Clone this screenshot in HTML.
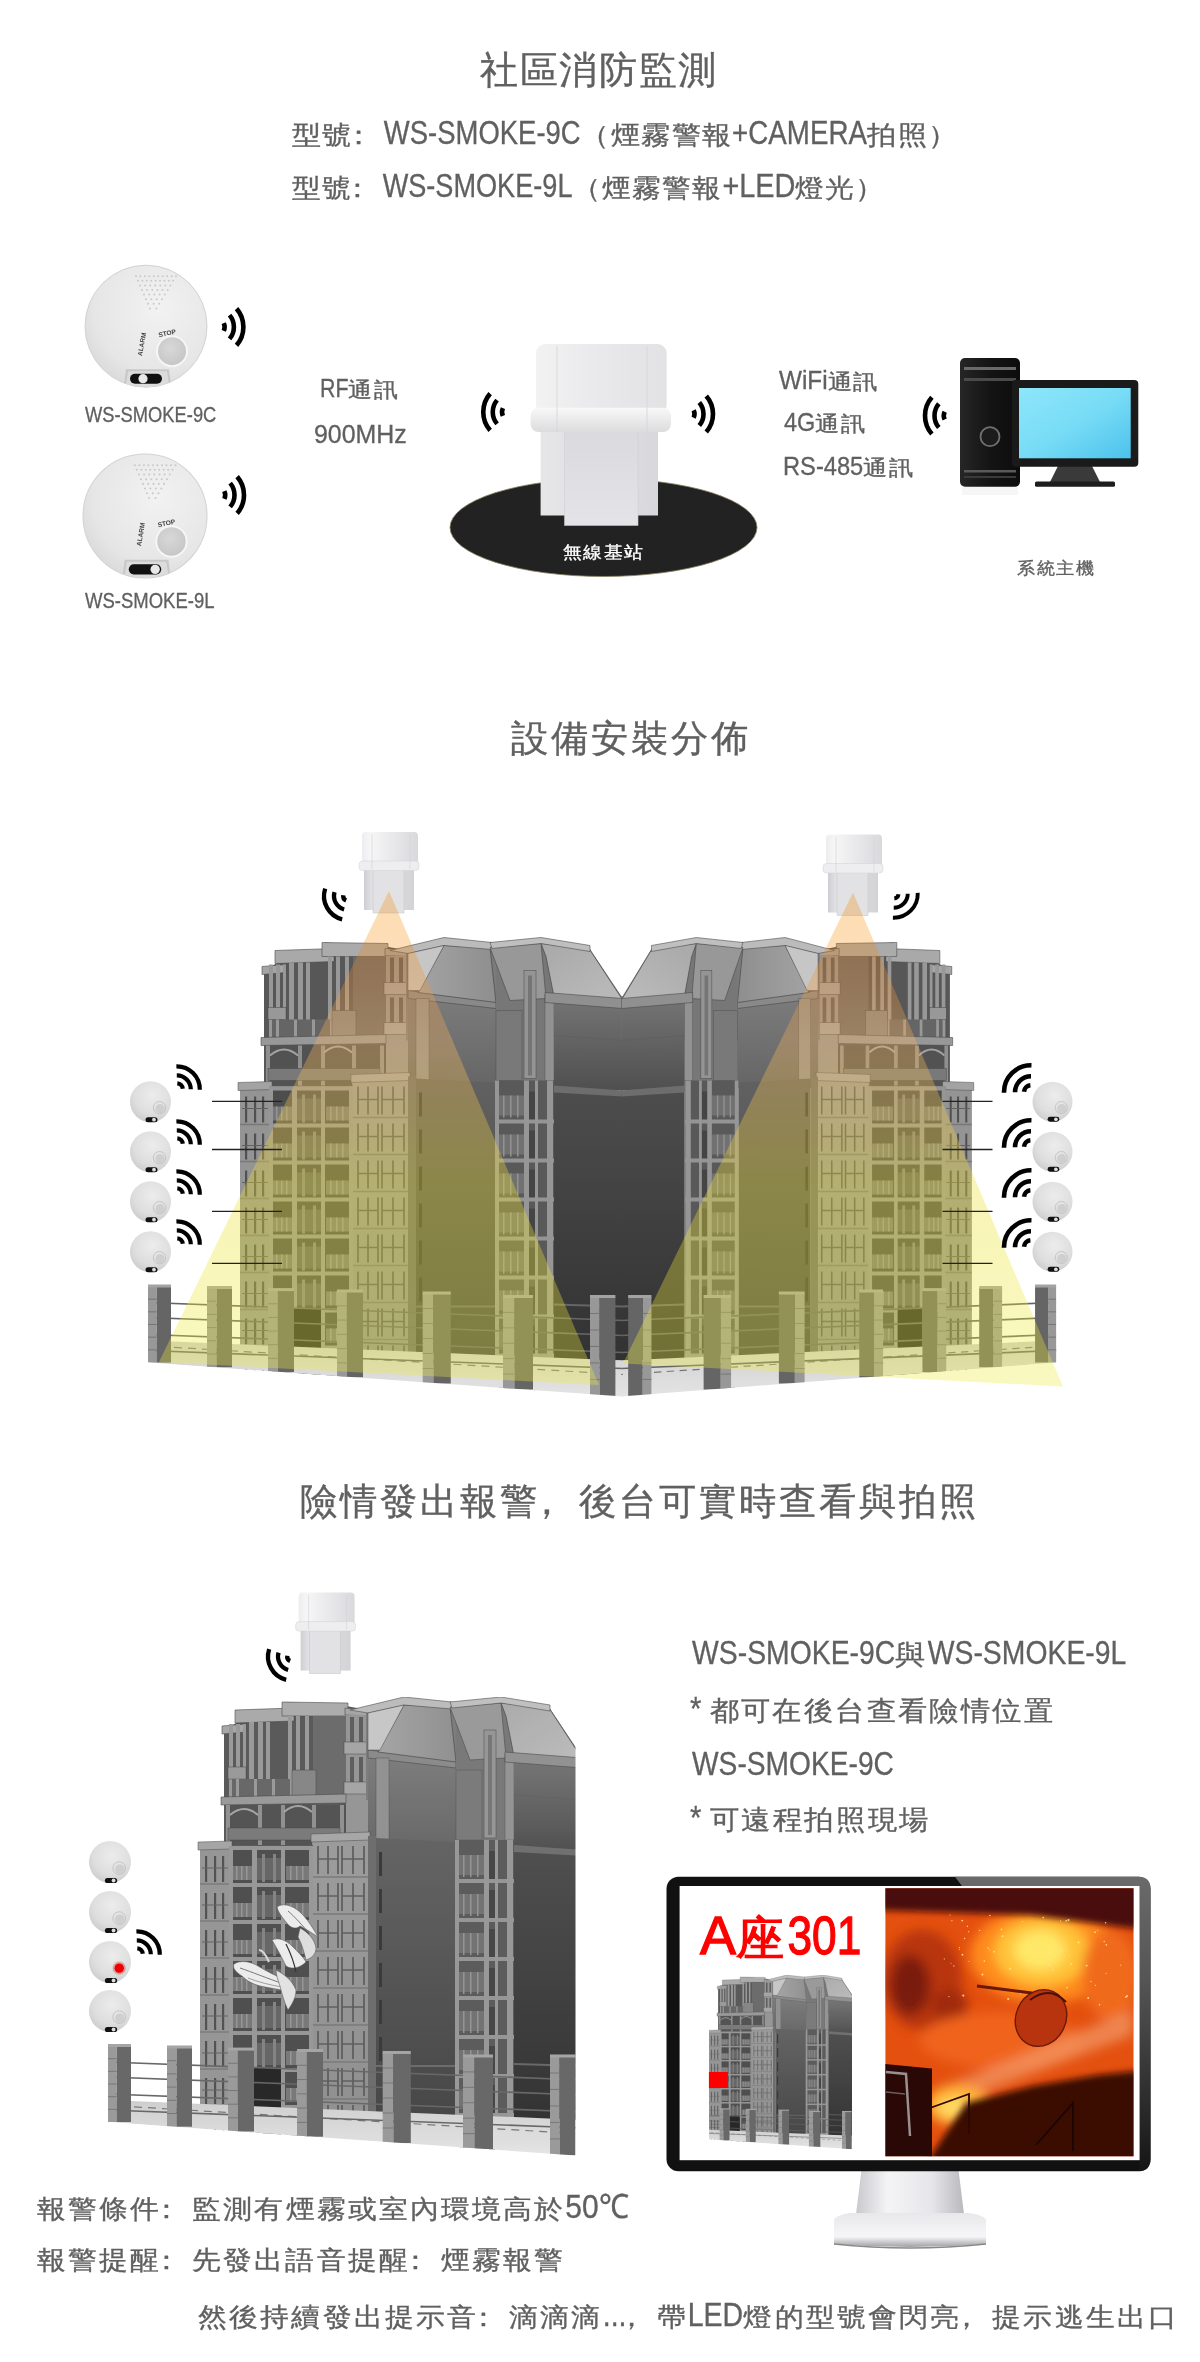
<!DOCTYPE html>
<html><head><meta charset="utf-8">
<style>
html,body{margin:0;padding:0;background:#fff;}
body{width:1200px;height:2362px;position:relative;overflow:hidden;font-family:"Liberation Sans",sans-serif;}
.t{position:absolute;white-space:nowrap;line-height:1;font-weight:500;-webkit-text-stroke:0.35px currentColor;}
.L{display:inline-block;white-space:nowrap;letter-spacing:0;}
.L>span{display:inline-block;transform-origin:0 0;}
.P{display:inline-block;letter-spacing:0;}
.P>span{position:relative;}
svg{position:absolute;left:0;top:0;}
</style></head><body>
<svg width="1200" height="2362" viewBox="0 0 1200 2362"><defs>
<clipPath id="detClip"><circle cx="0" cy="0" r="61"/></clipPath>
<radialGradient id="detG" cx="0.6" cy="0.35" r="0.75">
  <stop offset="0" stop-color="#f2f2f2"/><stop offset="0.7" stop-color="#e6e6e6"/><stop offset="1" stop-color="#d6d6d6"/>
</radialGradient>
<radialGradient id="btnG" cx="0.45" cy="0.4" r="0.7">
  <stop offset="0" stop-color="#d8d8d8"/><stop offset="1" stop-color="#c4c4c4"/>
</radialGradient>
<linearGradient id="bsTop" x1="0" y1="0" x2="1" y2="0">
  <stop offset="0" stop-color="#f2f2f3"/><stop offset="0.5" stop-color="#e9e9eb"/><stop offset="1" stop-color="#e2e2e4"/>
</linearGradient>
<linearGradient id="bsLedge" x1="0" y1="0" x2="0" y2="1">
  <stop offset="0" stop-color="#f8f8f8"/><stop offset="1" stop-color="#dcdcde"/>
</linearGradient>
<linearGradient id="bsLow" x1="0" y1="0" x2="1" y2="0">
  <stop offset="0" stop-color="#e6e6e8"/><stop offset="1" stop-color="#d8d8dc"/>
</linearGradient>
<linearGradient id="bsFront" x1="0" y1="0" x2="0" y2="1">
  <stop offset="0" stop-color="#dadade"/><stop offset="1" stop-color="#e4e4e8"/>
</linearGradient>
<linearGradient id="screenG" x1="0" y1="0" x2="1" y2="1">
  <stop offset="0" stop-color="#8ee6fa"/><stop offset="0.5" stop-color="#78dcf6"/><stop offset="1" stop-color="#4cc2ec"/>
</linearGradient>
<linearGradient id="towerG" x1="0" y1="0" x2="1" y2="0">
  <stop offset="0" stop-color="#262626"/><stop offset="0.5" stop-color="#141414"/><stop offset="1" stop-color="#0c0c0c"/>
</linearGradient>

<linearGradient id="gSide" x1="0" y1="0" x2="0" y2="1"><stop offset="0" stop-color="#565656"/><stop offset="1" stop-color="#3a3a3a"/></linearGradient>
<linearGradient id="gDark" x1="0" y1="0" x2="0" y2="1"><stop offset="0" stop-color="#424242"/><stop offset="1" stop-color="#282828"/></linearGradient>
<linearGradient id="gW1" x1="0" y1="0" x2="0" y2="1"><stop offset="0" stop-color="#727272"/><stop offset="1" stop-color="#5a5a5a"/></linearGradient>
<linearGradient id="gW2" x1="0" y1="0" x2="0" y2="1"><stop offset="0" stop-color="#6a6a6a"/><stop offset="1" stop-color="#444444"/></linearGradient>
<linearGradient id="gM2s" x1="0" y1="0" x2="1" y2="1"><stop offset="0" stop-color="#a0a0a0"/><stop offset="1" stop-color="#b4b4b4"/></linearGradient>
<linearGradient id="gM1" x1="0" y1="0" x2="1" y2="0"><stop offset="0" stop-color="#9a9a9a"/><stop offset="1" stop-color="#848484"/></linearGradient>
<linearGradient id="gGround" x1="0" y1="0" x2="0" y2="1"><stop offset="0" stop-color="#c8c8c8"/><stop offset="1" stop-color="#e2e2e2"/></linearGradient>
<linearGradient id="gFront" x1="0" y1="0" x2="0" y2="1"><stop offset="0" stop-color="#909090"/><stop offset="1" stop-color="#848484"/></linearGradient>
<clipPath id="cBase"><polygon points="0,1600 700,1600 700,2164.4 0,2114.3"/></clipPath><g id="bld" clip-path="url(#cBase)"><polygon points="224,1846 224,1730 238,1722 238,1711 284,1714 285,1702 346,1706 368,1710 368,1846" fill="#4c4c4c"/><polygon points="222,1726 246,1724 246,1732 222,1734" fill="#9c9c9c" stroke="#3c3c3c" stroke-width="0.6"/><polygon points="235,1710 294,1708 294,1721 235,1723" fill="#a0a0a0" stroke="#3c3c3c" stroke-width="0.6"/><polygon points="282,1702 348,1703 348,1716 282,1716" fill="#a2a2a2" stroke="#3c3c3c" stroke-width="0.6"/><polygon points="345,1708 370,1710 370,1716 345,1715" fill="#9a9a9a" stroke="#3c3c3c" stroke-width="0.6"/><rect x="229" y="1724" width="4" height="80" fill="#8e8e8e"/><rect x="236" y="1724" width="4" height="80" fill="#8e8e8e"/><rect x="243" y="1724" width="3" height="80" fill="#8e8e8e"/><rect x="249" y="1722" width="5" height="75" fill="#8e8e8e"/><rect x="258" y="1722" width="5" height="75" fill="#8e8e8e"/><rect x="266" y="1722" width="4" height="75" fill="#8e8e8e"/><rect x="288" y="1716" width="4" height="80" fill="#8e8e8e"/><rect x="296" y="1716" width="4" height="80" fill="#8e8e8e"/><rect x="305" y="1716" width="4" height="80" fill="#8e8e8e"/><rect x="313" y="1716" width="33" height="80" fill="#5e5e5e"/><rect x="346" y="1715" width="22" height="131" fill="#8a8a8a"/><rect x="350" y="1717" width="4" height="30" fill="#505050"/><rect x="359" y="1717" width="4" height="30" fill="#505050"/><rect x="350" y="1757" width="4" height="30" fill="#505050"/><rect x="359" y="1757" width="4" height="30" fill="#505050"/><rect x="344" y="1742" width="24" height="12" fill="#9a9a9a" stroke="#3c3c3c" stroke-width="0.5"/><rect x="344" y="1782" width="24" height="12" fill="#9a9a9a" stroke="#3c3c3c" stroke-width="0.5"/><rect x="228" y="1767" width="18" height="12" fill="#8e8e8e" stroke="#3c3c3c" stroke-width="0.5"/><rect x="232" y="1779" width="80" height="18" fill="#5a5a5a"/><rect x="236" y="1779" width="3" height="18" fill="#8e8e8e"/><rect x="254" y="1779" width="3" height="18" fill="#8e8e8e"/><rect x="272" y="1779" width="3" height="18" fill="#8e8e8e"/><rect x="290" y="1779" width="3" height="18" fill="#8e8e8e"/><rect x="306" y="1779" width="3" height="18" fill="#8e8e8e"/><rect x="292" y="1770" width="24" height="26" fill="#7a7a7a" stroke="#3c3c3c" stroke-width="0.5"/><polygon points="221,1797 346,1794 346,1803 221,1805" fill="#8e8e8e" stroke="#3c3c3c" stroke-width="0.6"/><rect x="226" y="1805" width="120" height="40" fill="#474747"/><rect x="226" y="1805" width="4" height="40" fill="#858585"/><rect x="258" y="1805" width="4" height="40" fill="#858585"/><rect x="281" y="1805" width="4" height="40" fill="#858585"/><rect x="312" y="1805" width="4" height="40" fill="#858585"/><rect x="340" y="1805" width="4" height="40" fill="#858585"/><path d="M230,1815 Q244,1803 258,1815" fill="none" stroke="#9a9a9a" stroke-width="2"/><path d="M284,1812 Q298,1800 312,1812" fill="none" stroke="#9a9a9a" stroke-width="2"/><rect x="228" y="1828" width="112" height="12" fill="#6e6e6e" stroke="#3c3c3c" stroke-width="0.5"/><polygon points="366,1712 404,1700 452,1703 501,1699 549,1707 583,1758 583,1800 366,1800" fill="#707070"/><rect x="368" y="1750" width="88" height="98" fill="url(#gW1)"/><polygon points="368,1750 456,1760 456,1768 368,1758" fill="#7e7e7e" stroke="#3c3c3c" stroke-width="0.6"/><rect x="376" y="1758" width="13" height="82" fill="#868686" stroke="#3c3c3c" stroke-width="0.4"/><polygon points="378,1752 404,1705 450,1707 456,1762" fill="url(#gM1)" stroke="#3c3c3c" stroke-width="0.7"/><polygon points="350,1710 404,1697 452,1702 452,1709 404,1705 368,1713" fill="#b4b4b4" stroke="#3c3c3c" stroke-width="0.6"/><polygon points="368,1713 404,1705 380,1750 368,1750" fill="#c0c0c0" stroke="#3c3c3c" stroke-width="0.5"/><rect x="456" y="1704" width="58" height="142" fill="#6c6c6c"/><polygon points="450,1707 501,1703 506,1758 470,1760" fill="#8e8e8e" stroke="#3c3c3c" stroke-width="0.6"/><rect x="484" y="1730" width="12" height="108" fill="#8a8a8a" stroke="#3c3c3c" stroke-width="0.5"/><rect x="488" y="1735" width="4" height="100" fill="#6a6a6a"/><rect x="505" y="1754" width="9" height="86" fill="#888888" stroke="#3c3c3c" stroke-width="0.4"/><rect x="456" y="1770" width="26" height="70" fill="#6e6e6e" stroke="#3c3c3c" stroke-width="0.4"/><rect x="514" y="1756" width="69" height="94" fill="url(#gW2)"/><polygon points="501,1703 549,1708 583,1760 514,1756 506,1716" fill="url(#gM2s)" stroke="#3c3c3c" stroke-width="0.7"/><polygon points="450,1702 501,1697 550,1705 550,1711 501,1703 452,1708" fill="#b8b8b8" stroke="#3c3c3c" stroke-width="0.6"/><polygon points="505,1752 583,1758 583,1768 505,1762" fill="#868686" stroke="#3c3c3c" stroke-width="0.6"/><line x1="514" y1="1795" x2="583" y2="1800" stroke="#555" stroke-width="0.8"/><line x1="514" y1="1806" x2="583" y2="1811" stroke="#555" stroke-width="0.8"/><rect x="200" y="1846" width="29" height="274" fill="#8a8a8a"/><polygon points="198,1842 232,1841 232,1849 198,1850" fill="#9a9a9a" stroke="#3c3c3c" stroke-width="0.5"/><rect x="205" y="1856" width="2.2" height="26" fill="#454545"/><rect x="214" y="1856" width="2.2" height="26" fill="#454545"/><rect x="222" y="1856" width="2.2" height="26" fill="#454545"/><line x1="202" y1="1868" x2="228" y2="1868" stroke="#555" stroke-width="1"/><line x1="200" y1="1884" x2="229" y2="1884" stroke="#6e6e6e" stroke-width="1.5"/><rect x="205" y="1893" width="2.2" height="26" fill="#454545"/><rect x="214" y="1893" width="2.2" height="26" fill="#454545"/><rect x="222" y="1893" width="2.2" height="26" fill="#454545"/><line x1="202" y1="1905" x2="228" y2="1905" stroke="#555" stroke-width="1"/><line x1="200" y1="1921" x2="229" y2="1921" stroke="#6e6e6e" stroke-width="1.5"/><rect x="205" y="1930" width="2.2" height="26" fill="#454545"/><rect x="214" y="1930" width="2.2" height="26" fill="#454545"/><rect x="222" y="1930" width="2.2" height="26" fill="#454545"/><line x1="202" y1="1942" x2="228" y2="1942" stroke="#555" stroke-width="1"/><line x1="200" y1="1958" x2="229" y2="1958" stroke="#6e6e6e" stroke-width="1.5"/><rect x="205" y="1967" width="2.2" height="26" fill="#454545"/><rect x="214" y="1967" width="2.2" height="26" fill="#454545"/><rect x="222" y="1967" width="2.2" height="26" fill="#454545"/><line x1="202" y1="1979" x2="228" y2="1979" stroke="#555" stroke-width="1"/><line x1="200" y1="1995" x2="229" y2="1995" stroke="#6e6e6e" stroke-width="1.5"/><rect x="205" y="2004" width="2.2" height="26" fill="#454545"/><rect x="214" y="2004" width="2.2" height="26" fill="#454545"/><rect x="222" y="2004" width="2.2" height="26" fill="#454545"/><line x1="202" y1="2016" x2="228" y2="2016" stroke="#555" stroke-width="1"/><line x1="200" y1="2032" x2="229" y2="2032" stroke="#6e6e6e" stroke-width="1.5"/><rect x="205" y="2041" width="2.2" height="26" fill="#454545"/><rect x="214" y="2041" width="2.2" height="26" fill="#454545"/><rect x="222" y="2041" width="2.2" height="26" fill="#454545"/><line x1="202" y1="2053" x2="228" y2="2053" stroke="#555" stroke-width="1"/><line x1="200" y1="2069" x2="229" y2="2069" stroke="#6e6e6e" stroke-width="1.5"/><rect x="205" y="2078" width="2.2" height="26" fill="#454545"/><rect x="214" y="2078" width="2.2" height="26" fill="#454545"/><rect x="222" y="2078" width="2.2" height="26" fill="#454545"/><line x1="202" y1="2090" x2="228" y2="2090" stroke="#555" stroke-width="1"/><line x1="200" y1="2106" x2="229" y2="2106" stroke="#6e6e6e" stroke-width="1.5"/><rect x="205" y="2115" width="2.2" height="26" fill="#454545"/><rect x="214" y="2115" width="2.2" height="26" fill="#454545"/><rect x="222" y="2115" width="2.2" height="26" fill="#454545"/><line x1="202" y1="2127" x2="228" y2="2127" stroke="#555" stroke-width="1"/><line x1="200" y1="2143" x2="229" y2="2143" stroke="#6e6e6e" stroke-width="1.5"/><rect x="229" y="1846" width="84" height="274" fill="#424242"/><rect x="229" y="1846" width="84" height="4" fill="#8a8a8a"/><rect x="232" y="1866" width="20" height="14" fill="#6c6c6c"/><rect x="257" y="1858" width="24" height="22" fill="#595959"/><rect x="286" y="1866" width="23" height="14" fill="#6c6c6c"/><rect x="236" y="1866" width="1.5" height="14" fill="#8a8a8a"/><rect x="241" y="1866" width="1.5" height="14" fill="#8a8a8a"/><rect x="246" y="1866" width="1.5" height="14" fill="#8a8a8a"/><rect x="290" y="1866" width="1.5" height="14" fill="#8a8a8a"/><rect x="296" y="1866" width="1.5" height="14" fill="#8a8a8a"/><rect x="302" y="1866" width="1.5" height="14" fill="#8a8a8a"/><rect x="262" y="1854" width="3" height="28" fill="#777"/><rect x="273" y="1854" width="3" height="28" fill="#777"/><rect x="229" y="1883" width="84" height="4" fill="#8a8a8a"/><rect x="232" y="1903" width="20" height="14" fill="#6c6c6c"/><rect x="257" y="1895" width="24" height="22" fill="#595959"/><rect x="286" y="1903" width="23" height="14" fill="#6c6c6c"/><rect x="236" y="1903" width="1.5" height="14" fill="#8a8a8a"/><rect x="241" y="1903" width="1.5" height="14" fill="#8a8a8a"/><rect x="246" y="1903" width="1.5" height="14" fill="#8a8a8a"/><rect x="290" y="1903" width="1.5" height="14" fill="#8a8a8a"/><rect x="296" y="1903" width="1.5" height="14" fill="#8a8a8a"/><rect x="302" y="1903" width="1.5" height="14" fill="#8a8a8a"/><rect x="262" y="1891" width="3" height="28" fill="#777"/><rect x="273" y="1891" width="3" height="28" fill="#777"/><rect x="229" y="1920" width="84" height="4" fill="#8a8a8a"/><rect x="232" y="1940" width="20" height="14" fill="#6c6c6c"/><rect x="257" y="1932" width="24" height="22" fill="#595959"/><rect x="286" y="1940" width="23" height="14" fill="#6c6c6c"/><rect x="236" y="1940" width="1.5" height="14" fill="#8a8a8a"/><rect x="241" y="1940" width="1.5" height="14" fill="#8a8a8a"/><rect x="246" y="1940" width="1.5" height="14" fill="#8a8a8a"/><rect x="290" y="1940" width="1.5" height="14" fill="#8a8a8a"/><rect x="296" y="1940" width="1.5" height="14" fill="#8a8a8a"/><rect x="302" y="1940" width="1.5" height="14" fill="#8a8a8a"/><rect x="262" y="1928" width="3" height="28" fill="#777"/><rect x="273" y="1928" width="3" height="28" fill="#777"/><rect x="229" y="1957" width="84" height="4" fill="#8a8a8a"/><rect x="232" y="1977" width="20" height="14" fill="#6c6c6c"/><rect x="257" y="1969" width="24" height="22" fill="#595959"/><rect x="286" y="1977" width="23" height="14" fill="#6c6c6c"/><rect x="236" y="1977" width="1.5" height="14" fill="#8a8a8a"/><rect x="241" y="1977" width="1.5" height="14" fill="#8a8a8a"/><rect x="246" y="1977" width="1.5" height="14" fill="#8a8a8a"/><rect x="290" y="1977" width="1.5" height="14" fill="#8a8a8a"/><rect x="296" y="1977" width="1.5" height="14" fill="#8a8a8a"/><rect x="302" y="1977" width="1.5" height="14" fill="#8a8a8a"/><rect x="262" y="1965" width="3" height="28" fill="#777"/><rect x="273" y="1965" width="3" height="28" fill="#777"/><rect x="229" y="1994" width="84" height="4" fill="#8a8a8a"/><rect x="232" y="2014" width="20" height="14" fill="#6c6c6c"/><rect x="257" y="2006" width="24" height="22" fill="#595959"/><rect x="286" y="2014" width="23" height="14" fill="#6c6c6c"/><rect x="236" y="2014" width="1.5" height="14" fill="#8a8a8a"/><rect x="241" y="2014" width="1.5" height="14" fill="#8a8a8a"/><rect x="246" y="2014" width="1.5" height="14" fill="#8a8a8a"/><rect x="290" y="2014" width="1.5" height="14" fill="#8a8a8a"/><rect x="296" y="2014" width="1.5" height="14" fill="#8a8a8a"/><rect x="302" y="2014" width="1.5" height="14" fill="#8a8a8a"/><rect x="262" y="2002" width="3" height="28" fill="#777"/><rect x="273" y="2002" width="3" height="28" fill="#777"/><rect x="229" y="2031" width="84" height="4" fill="#8a8a8a"/><rect x="232" y="2051" width="20" height="14" fill="#6c6c6c"/><rect x="257" y="2043" width="24" height="22" fill="#595959"/><rect x="286" y="2051" width="23" height="14" fill="#6c6c6c"/><rect x="236" y="2051" width="1.5" height="14" fill="#8a8a8a"/><rect x="241" y="2051" width="1.5" height="14" fill="#8a8a8a"/><rect x="246" y="2051" width="1.5" height="14" fill="#8a8a8a"/><rect x="290" y="2051" width="1.5" height="14" fill="#8a8a8a"/><rect x="296" y="2051" width="1.5" height="14" fill="#8a8a8a"/><rect x="302" y="2051" width="1.5" height="14" fill="#8a8a8a"/><rect x="262" y="2039" width="3" height="28" fill="#777"/><rect x="273" y="2039" width="3" height="28" fill="#777"/><rect x="229" y="2068" width="84" height="4" fill="#8a8a8a"/><rect x="232" y="2088" width="20" height="14" fill="#6c6c6c"/><rect x="257" y="2080" width="24" height="22" fill="#595959"/><rect x="286" y="2088" width="23" height="14" fill="#6c6c6c"/><rect x="236" y="2088" width="1.5" height="14" fill="#8a8a8a"/><rect x="241" y="2088" width="1.5" height="14" fill="#8a8a8a"/><rect x="246" y="2088" width="1.5" height="14" fill="#8a8a8a"/><rect x="290" y="2088" width="1.5" height="14" fill="#8a8a8a"/><rect x="296" y="2088" width="1.5" height="14" fill="#8a8a8a"/><rect x="302" y="2088" width="1.5" height="14" fill="#8a8a8a"/><rect x="262" y="2076" width="3" height="28" fill="#777"/><rect x="273" y="2076" width="3" height="28" fill="#777"/><rect x="229" y="2105" width="84" height="4" fill="#8a8a8a"/><rect x="232" y="2125" width="20" height="14" fill="#6c6c6c"/><rect x="257" y="2117" width="24" height="22" fill="#595959"/><rect x="286" y="2125" width="23" height="14" fill="#6c6c6c"/><rect x="236" y="2125" width="1.5" height="14" fill="#8a8a8a"/><rect x="241" y="2125" width="1.5" height="14" fill="#8a8a8a"/><rect x="246" y="2125" width="1.5" height="14" fill="#8a8a8a"/><rect x="290" y="2125" width="1.5" height="14" fill="#8a8a8a"/><rect x="296" y="2125" width="1.5" height="14" fill="#8a8a8a"/><rect x="302" y="2125" width="1.5" height="14" fill="#8a8a8a"/><rect x="262" y="2113" width="3" height="28" fill="#777"/><rect x="273" y="2113" width="3" height="28" fill="#777"/><rect x="229" y="1846" width="4" height="274" fill="#8c8c8c"/><rect x="252" y="1846" width="5" height="274" fill="#8c8c8c"/><rect x="281" y="1846" width="4" height="274" fill="#8c8c8c"/><rect x="309" y="1846" width="4" height="274" fill="#8c8c8c"/><rect x="313" y="1834" width="55" height="288" fill="url(#gFront)"/><polygon points="311,1834 370,1832 370,1840 311,1842" fill="#9c9c9c" stroke="#3c3c3c" stroke-width="0.5"/><line x1="318" y1="1846" x2="318" y2="1874" stroke="#4a4a4a" stroke-width="1.6"/><line x1="338" y1="1846" x2="338" y2="1874" stroke="#4a4a4a" stroke-width="1.6"/><line x1="328.0" y1="1846" x2="328.0" y2="1874" stroke="#4a4a4a" stroke-width="1.6"/><line x1="318" y1="1859" x2="338" y2="1859" stroke="#505050" stroke-width="1.4"/><line x1="342" y1="1846" x2="342" y2="1874" stroke="#4a4a4a" stroke-width="1.6"/><line x1="364" y1="1846" x2="364" y2="1874" stroke="#4a4a4a" stroke-width="1.6"/><line x1="353.0" y1="1846" x2="353.0" y2="1874" stroke="#4a4a4a" stroke-width="1.6"/><line x1="342" y1="1859" x2="364" y2="1859" stroke="#505050" stroke-width="1.4"/><line x1="313" y1="1877" x2="368" y2="1877" stroke="#6c6c6c" stroke-width="1.5"/><line x1="318" y1="1883" x2="318" y2="1911" stroke="#4a4a4a" stroke-width="1.6"/><line x1="338" y1="1883" x2="338" y2="1911" stroke="#4a4a4a" stroke-width="1.6"/><line x1="328.0" y1="1883" x2="328.0" y2="1911" stroke="#4a4a4a" stroke-width="1.6"/><line x1="318" y1="1896" x2="338" y2="1896" stroke="#505050" stroke-width="1.4"/><line x1="342" y1="1883" x2="342" y2="1911" stroke="#4a4a4a" stroke-width="1.6"/><line x1="364" y1="1883" x2="364" y2="1911" stroke="#4a4a4a" stroke-width="1.6"/><line x1="353.0" y1="1883" x2="353.0" y2="1911" stroke="#4a4a4a" stroke-width="1.6"/><line x1="342" y1="1896" x2="364" y2="1896" stroke="#505050" stroke-width="1.4"/><line x1="313" y1="1914" x2="368" y2="1914" stroke="#6c6c6c" stroke-width="1.5"/><line x1="318" y1="1920" x2="318" y2="1948" stroke="#4a4a4a" stroke-width="1.6"/><line x1="338" y1="1920" x2="338" y2="1948" stroke="#4a4a4a" stroke-width="1.6"/><line x1="328.0" y1="1920" x2="328.0" y2="1948" stroke="#4a4a4a" stroke-width="1.6"/><line x1="318" y1="1933" x2="338" y2="1933" stroke="#505050" stroke-width="1.4"/><line x1="342" y1="1920" x2="342" y2="1948" stroke="#4a4a4a" stroke-width="1.6"/><line x1="364" y1="1920" x2="364" y2="1948" stroke="#4a4a4a" stroke-width="1.6"/><line x1="353.0" y1="1920" x2="353.0" y2="1948" stroke="#4a4a4a" stroke-width="1.6"/><line x1="342" y1="1933" x2="364" y2="1933" stroke="#505050" stroke-width="1.4"/><line x1="313" y1="1951" x2="368" y2="1951" stroke="#6c6c6c" stroke-width="1.5"/><line x1="318" y1="1957" x2="318" y2="1985" stroke="#4a4a4a" stroke-width="1.6"/><line x1="338" y1="1957" x2="338" y2="1985" stroke="#4a4a4a" stroke-width="1.6"/><line x1="328.0" y1="1957" x2="328.0" y2="1985" stroke="#4a4a4a" stroke-width="1.6"/><line x1="318" y1="1970" x2="338" y2="1970" stroke="#505050" stroke-width="1.4"/><line x1="342" y1="1957" x2="342" y2="1985" stroke="#4a4a4a" stroke-width="1.6"/><line x1="364" y1="1957" x2="364" y2="1985" stroke="#4a4a4a" stroke-width="1.6"/><line x1="353.0" y1="1957" x2="353.0" y2="1985" stroke="#4a4a4a" stroke-width="1.6"/><line x1="342" y1="1970" x2="364" y2="1970" stroke="#505050" stroke-width="1.4"/><line x1="313" y1="1988" x2="368" y2="1988" stroke="#6c6c6c" stroke-width="1.5"/><line x1="318" y1="1994" x2="318" y2="2022" stroke="#4a4a4a" stroke-width="1.6"/><line x1="338" y1="1994" x2="338" y2="2022" stroke="#4a4a4a" stroke-width="1.6"/><line x1="328.0" y1="1994" x2="328.0" y2="2022" stroke="#4a4a4a" stroke-width="1.6"/><line x1="318" y1="2007" x2="338" y2="2007" stroke="#505050" stroke-width="1.4"/><line x1="342" y1="1994" x2="342" y2="2022" stroke="#4a4a4a" stroke-width="1.6"/><line x1="364" y1="1994" x2="364" y2="2022" stroke="#4a4a4a" stroke-width="1.6"/><line x1="353.0" y1="1994" x2="353.0" y2="2022" stroke="#4a4a4a" stroke-width="1.6"/><line x1="342" y1="2007" x2="364" y2="2007" stroke="#505050" stroke-width="1.4"/><line x1="313" y1="2025" x2="368" y2="2025" stroke="#6c6c6c" stroke-width="1.5"/><line x1="318" y1="2031" x2="318" y2="2059" stroke="#4a4a4a" stroke-width="1.6"/><line x1="338" y1="2031" x2="338" y2="2059" stroke="#4a4a4a" stroke-width="1.6"/><line x1="328.0" y1="2031" x2="328.0" y2="2059" stroke="#4a4a4a" stroke-width="1.6"/><line x1="318" y1="2044" x2="338" y2="2044" stroke="#505050" stroke-width="1.4"/><line x1="342" y1="2031" x2="342" y2="2059" stroke="#4a4a4a" stroke-width="1.6"/><line x1="364" y1="2031" x2="364" y2="2059" stroke="#4a4a4a" stroke-width="1.6"/><line x1="353.0" y1="2031" x2="353.0" y2="2059" stroke="#4a4a4a" stroke-width="1.6"/><line x1="342" y1="2044" x2="364" y2="2044" stroke="#505050" stroke-width="1.4"/><line x1="313" y1="2062" x2="368" y2="2062" stroke="#6c6c6c" stroke-width="1.5"/><line x1="318" y1="2068" x2="318" y2="2096" stroke="#4a4a4a" stroke-width="1.6"/><line x1="338" y1="2068" x2="338" y2="2096" stroke="#4a4a4a" stroke-width="1.6"/><line x1="328.0" y1="2068" x2="328.0" y2="2096" stroke="#4a4a4a" stroke-width="1.6"/><line x1="318" y1="2081" x2="338" y2="2081" stroke="#505050" stroke-width="1.4"/><line x1="342" y1="2068" x2="342" y2="2096" stroke="#4a4a4a" stroke-width="1.6"/><line x1="364" y1="2068" x2="364" y2="2096" stroke="#4a4a4a" stroke-width="1.6"/><line x1="353.0" y1="2068" x2="353.0" y2="2096" stroke="#4a4a4a" stroke-width="1.6"/><line x1="342" y1="2081" x2="364" y2="2081" stroke="#505050" stroke-width="1.4"/><line x1="313" y1="2099" x2="368" y2="2099" stroke="#6c6c6c" stroke-width="1.5"/><line x1="318" y1="2105" x2="318" y2="2133" stroke="#4a4a4a" stroke-width="1.6"/><line x1="338" y1="2105" x2="338" y2="2133" stroke="#4a4a4a" stroke-width="1.6"/><line x1="328.0" y1="2105" x2="328.0" y2="2133" stroke="#4a4a4a" stroke-width="1.6"/><line x1="318" y1="2118" x2="338" y2="2118" stroke="#505050" stroke-width="1.4"/><line x1="342" y1="2105" x2="342" y2="2133" stroke="#4a4a4a" stroke-width="1.6"/><line x1="364" y1="2105" x2="364" y2="2133" stroke="#4a4a4a" stroke-width="1.6"/><line x1="353.0" y1="2105" x2="353.0" y2="2133" stroke="#4a4a4a" stroke-width="1.6"/><line x1="342" y1="2118" x2="364" y2="2118" stroke="#505050" stroke-width="1.4"/><line x1="313" y1="2136" x2="368" y2="2136" stroke="#6c6c6c" stroke-width="1.5"/><rect x="368" y="1836" width="8" height="286" fill="#606060"/><polygon points="376,1838 455,1842 455,2120 376,2120" fill="url(#gSide)"/><rect x="379" y="1852" width="3" height="24" fill="#2e2e2e"/><rect x="379" y="1889" width="3" height="24" fill="#2e2e2e"/><rect x="379" y="1926" width="3" height="24" fill="#2e2e2e"/><rect x="379" y="1963" width="3" height="24" fill="#2e2e2e"/><rect x="379" y="2000" width="3" height="24" fill="#2e2e2e"/><rect x="379" y="2037" width="3" height="24" fill="#2e2e2e"/><line x1="376" y1="2066" x2="455" y2="2066" stroke="#5e5e5e" stroke-width="2"/><rect x="455" y="1840" width="59" height="280" fill="#4e4e4e"/><rect x="459" y="1855" width="25" height="20" fill="#666"/><rect x="489" y="1851" width="6" height="30" fill="#3a3a3a"/><rect x="455" y="1879" width="59" height="4" fill="#8a8a8a"/><rect x="463" y="1855" width="1.5" height="22" fill="#888"/><rect x="470" y="1855" width="1.5" height="22" fill="#888"/><rect x="477" y="1855" width="1.5" height="22" fill="#888"/><rect x="459" y="1894" width="25" height="20" fill="#666"/><rect x="489" y="1890" width="6" height="30" fill="#3a3a3a"/><rect x="455" y="1918" width="59" height="4" fill="#8a8a8a"/><rect x="463" y="1894" width="1.5" height="22" fill="#888"/><rect x="470" y="1894" width="1.5" height="22" fill="#888"/><rect x="477" y="1894" width="1.5" height="22" fill="#888"/><rect x="459" y="1933" width="25" height="20" fill="#666"/><rect x="489" y="1929" width="6" height="30" fill="#3a3a3a"/><rect x="455" y="1957" width="59" height="4" fill="#8a8a8a"/><rect x="463" y="1933" width="1.5" height="22" fill="#888"/><rect x="470" y="1933" width="1.5" height="22" fill="#888"/><rect x="477" y="1933" width="1.5" height="22" fill="#888"/><rect x="459" y="1972" width="25" height="20" fill="#666"/><rect x="489" y="1968" width="6" height="30" fill="#3a3a3a"/><rect x="455" y="1996" width="59" height="4" fill="#8a8a8a"/><rect x="463" y="1972" width="1.5" height="22" fill="#888"/><rect x="470" y="1972" width="1.5" height="22" fill="#888"/><rect x="477" y="1972" width="1.5" height="22" fill="#888"/><rect x="459" y="2011" width="25" height="20" fill="#666"/><rect x="489" y="2007" width="6" height="30" fill="#3a3a3a"/><rect x="455" y="2035" width="59" height="4" fill="#8a8a8a"/><rect x="463" y="2011" width="1.5" height="22" fill="#888"/><rect x="470" y="2011" width="1.5" height="22" fill="#888"/><rect x="477" y="2011" width="1.5" height="22" fill="#888"/><rect x="459" y="2050" width="25" height="20" fill="#666"/><rect x="489" y="2046" width="6" height="30" fill="#3a3a3a"/><rect x="455" y="2074" width="59" height="4" fill="#8a8a8a"/><rect x="463" y="2050" width="1.5" height="22" fill="#888"/><rect x="470" y="2050" width="1.5" height="22" fill="#888"/><rect x="477" y="2050" width="1.5" height="22" fill="#888"/><rect x="459" y="2089" width="25" height="20" fill="#666"/><rect x="489" y="2085" width="6" height="30" fill="#3a3a3a"/><rect x="455" y="2113" width="59" height="4" fill="#8a8a8a"/><rect x="463" y="2089" width="1.5" height="22" fill="#888"/><rect x="470" y="2089" width="1.5" height="22" fill="#888"/><rect x="477" y="2089" width="1.5" height="22" fill="#888"/><rect x="459" y="2128" width="25" height="20" fill="#666"/><rect x="489" y="2124" width="6" height="30" fill="#3a3a3a"/><rect x="455" y="2152" width="59" height="4" fill="#8a8a8a"/><rect x="463" y="2128" width="1.5" height="22" fill="#888"/><rect x="470" y="2128" width="1.5" height="22" fill="#888"/><rect x="477" y="2128" width="1.5" height="22" fill="#888"/><rect x="455" y="1840" width="4" height="280" fill="#8c8c8c"/><rect x="484" y="1840" width="5" height="280" fill="#8c8c8c"/><rect x="495" y="1840" width="3" height="280" fill="#8c8c8c"/><rect x="507" y="1840" width="6" height="280" fill="#8c8c8c"/><polygon points="514,1848 583,1853 583,2120 514,2120" fill="url(#gDark)"/><polygon points="514,1845 583,1850 583,1856 514,1852" fill="#626262"/><line x1="514" y1="2064" x2="583" y2="2066" stroke="#5a5a5a" stroke-width="2"/><rect x="254" y="2068" width="27" height="44" fill="#1e1e1e"/><polygon points="108,2100 583,2120 583,2158 108,2122" fill="url(#gGround)"/><path d="M120,2106 L583,2134" stroke="#6a6a6a" stroke-width="1.2" stroke-dasharray="8,6" fill="none"/><line x1="108" y1="2062" x2="583" y2="2080" stroke="#5a5a5a" stroke-width="1.6"/><line x1="108" y1="2077" x2="583" y2="2095" stroke="#5a5a5a" stroke-width="1.6"/><line x1="108" y1="2094" x2="583" y2="2112" stroke="#5a5a5a" stroke-width="1.6"/><line x1="108" y1="2110" x2="583" y2="2128" stroke="#5a5a5a" stroke-width="1.6"/><rect x="108" y="2046" width="8.74" height="76" fill="#8e8e8e"/><rect x="116.74" y="2046" width="14.26" height="76" fill="#5a5a5a"/><line x1="108" y1="2058.6666666666665" x2="116.74" y2="2058.6666666666665" stroke="#6a6a6a" stroke-width="1"/><line x1="108" y1="2071.3333333333335" x2="116.74" y2="2071.3333333333335" stroke="#6a6a6a" stroke-width="1"/><line x1="108" y1="2084.0" x2="116.74" y2="2084.0" stroke="#6a6a6a" stroke-width="1"/><line x1="108" y1="2096.6666666666665" x2="116.74" y2="2096.6666666666665" stroke="#6a6a6a" stroke-width="1"/><line x1="108" y1="2109.3333333333335" x2="116.74" y2="2109.3333333333335" stroke="#6a6a6a" stroke-width="1"/><rect x="108" y="2044" width="23" height="3" fill="#9a9a9a"/><rect x="167" y="2047.5" width="9.5" height="79.19999999999982" fill="#8e8e8e"/><rect x="176.5" y="2047.5" width="15.5" height="79.19999999999982" fill="#5a5a5a"/><line x1="167" y1="2060.7" x2="176.5" y2="2060.7" stroke="#6a6a6a" stroke-width="1"/><line x1="167" y1="2073.9" x2="176.5" y2="2073.9" stroke="#6a6a6a" stroke-width="1"/><line x1="167" y1="2087.1" x2="176.5" y2="2087.1" stroke="#6a6a6a" stroke-width="1"/><line x1="167" y1="2100.2999999999997" x2="176.5" y2="2100.2999999999997" stroke="#6a6a6a" stroke-width="1"/><line x1="167" y1="2113.5" x2="176.5" y2="2113.5" stroke="#6a6a6a" stroke-width="1"/><rect x="167" y="2045.5" width="25" height="3" fill="#9a9a9a"/><rect x="228" y="2049.6" width="9.88" height="81.90000000000009" fill="#8e8e8e"/><rect x="237.88" y="2049.6" width="16.12" height="81.90000000000009" fill="#5a5a5a"/><line x1="228" y1="2063.25" x2="237.88" y2="2063.25" stroke="#6a6a6a" stroke-width="1"/><line x1="228" y1="2076.9" x2="237.88" y2="2076.9" stroke="#6a6a6a" stroke-width="1"/><line x1="228" y1="2090.55" x2="237.88" y2="2090.55" stroke="#6a6a6a" stroke-width="1"/><line x1="228" y1="2104.2" x2="237.88" y2="2104.2" stroke="#6a6a6a" stroke-width="1"/><line x1="228" y1="2117.85" x2="237.88" y2="2117.85" stroke="#6a6a6a" stroke-width="1"/><rect x="228" y="2047.6" width="26" height="3" fill="#9a9a9a"/><rect x="297" y="2051" width="9.88" height="85.69999999999982" fill="#8e8e8e"/><rect x="306.88" y="2051" width="16.12" height="85.69999999999982" fill="#5a5a5a"/><line x1="297" y1="2065.2833333333333" x2="306.88" y2="2065.2833333333333" stroke="#6a6a6a" stroke-width="1"/><line x1="297" y1="2079.5666666666666" x2="306.88" y2="2079.5666666666666" stroke="#6a6a6a" stroke-width="1"/><line x1="297" y1="2093.85" x2="306.88" y2="2093.85" stroke="#6a6a6a" stroke-width="1"/><line x1="297" y1="2108.133333333333" x2="306.88" y2="2108.133333333333" stroke="#6a6a6a" stroke-width="1"/><line x1="297" y1="2122.4166666666665" x2="306.88" y2="2122.4166666666665" stroke="#6a6a6a" stroke-width="1"/><rect x="297" y="2049" width="26" height="3" fill="#9a9a9a"/><rect x="382.7" y="2053" width="10.678000000000008" height="90" fill="#8e8e8e"/><rect x="393.378" y="2053" width="17.422000000000015" height="90" fill="#5a5a5a"/><line x1="382.7" y1="2068.0" x2="393.378" y2="2068.0" stroke="#6a6a6a" stroke-width="1"/><line x1="382.7" y1="2083.0" x2="393.378" y2="2083.0" stroke="#6a6a6a" stroke-width="1"/><line x1="382.7" y1="2098.0" x2="393.378" y2="2098.0" stroke="#6a6a6a" stroke-width="1"/><line x1="382.7" y1="2113.0" x2="393.378" y2="2113.0" stroke="#6a6a6a" stroke-width="1"/><line x1="382.7" y1="2128.0" x2="393.378" y2="2128.0" stroke="#6a6a6a" stroke-width="1"/><rect x="382.7" y="2051" width="28.100000000000023" height="3" fill="#9a9a9a"/><rect x="463" y="2056.5" width="11.4" height="92.5" fill="#8e8e8e"/><rect x="474.4" y="2056.5" width="18.6" height="92.5" fill="#5a5a5a"/><line x1="463" y1="2071.9166666666665" x2="474.4" y2="2071.9166666666665" stroke="#6a6a6a" stroke-width="1"/><line x1="463" y1="2087.3333333333335" x2="474.4" y2="2087.3333333333335" stroke="#6a6a6a" stroke-width="1"/><line x1="463" y1="2102.75" x2="474.4" y2="2102.75" stroke="#6a6a6a" stroke-width="1"/><line x1="463" y1="2118.1666666666665" x2="474.4" y2="2118.1666666666665" stroke="#6a6a6a" stroke-width="1"/><line x1="463" y1="2133.5833333333335" x2="474.4" y2="2133.5833333333335" stroke="#6a6a6a" stroke-width="1"/><rect x="463" y="2054.5" width="30" height="3" fill="#9a9a9a"/><rect x="550" y="2056.5" width="9.651999999999992" height="98.90000000000009" fill="#8e8e8e"/><rect x="559.652" y="2056.5" width="15.747999999999985" height="98.90000000000009" fill="#5a5a5a"/><line x1="550" y1="2072.9833333333336" x2="559.652" y2="2072.9833333333336" stroke="#6a6a6a" stroke-width="1"/><line x1="550" y1="2089.4666666666667" x2="559.652" y2="2089.4666666666667" stroke="#6a6a6a" stroke-width="1"/><line x1="550" y1="2105.95" x2="559.652" y2="2105.95" stroke="#6a6a6a" stroke-width="1"/><line x1="550" y1="2122.4333333333334" x2="559.652" y2="2122.4333333333334" stroke="#6a6a6a" stroke-width="1"/><line x1="550" y1="2138.916666666667" x2="559.652" y2="2138.916666666667" stroke="#6a6a6a" stroke-width="1"/><rect x="550" y="2054.5" width="25.399999999999977" height="3" fill="#9a9a9a"/></g><filter id="lift3" x="0" y="0" width="100%" height="100%" color-interpolation-filters="sRGB"><feComponentTransfer><feFuncR type="gamma" amplitude="1" exponent="0.86" offset="0"/><feFuncG type="gamma" amplitude="1" exponent="0.86" offset="0"/><feFuncB type="gamma" amplitude="1" exponent="0.86" offset="0"/></feComponentTransfer></filter><clipPath id="clip3"><rect x="100" y="1690" width="475.5" height="480"/></clipPath>
<linearGradient id="triN" gradientUnits="userSpaceOnUse" x1="0" y1="891" x2="0" y2="1385">
  <stop offset="0" stop-color="#f56a10" stop-opacity="0.22"/>
  <stop offset="0.3" stop-color="#f2b060" stop-opacity="0.36"/>
  <stop offset="0.6" stop-color="#ecdf30" stop-opacity="0.35"/>
  <stop offset="1" stop-color="#ecec3c" stop-opacity="0.33"/>
</linearGradient>
<linearGradient id="triM" gradientUnits="userSpaceOnUse" x1="0" y1="891" x2="0" y2="1385">
  <stop offset="0" stop-color="#ffffe0"/>
  <stop offset="0.3" stop-color="#ffffff"/>
  <stop offset="1" stop-color="#ffffff"/>
</linearGradient>
<filter id="lift2" x="0" y="0" width="100%" height="100%" color-interpolation-filters="sRGB"><feComponentTransfer><feFuncR type="gamma" amplitude="1" exponent="0.88" offset="0"/><feFuncG type="gamma" amplitude="1" exponent="0.88" offset="0"/><feFuncB type="gamma" amplitude="1" exponent="0.88" offset="0"/></feComponentTransfer></filter>
<radialGradient id="sdG" cx="0.55" cy="0.35" r="0.75">
  <stop offset="0" stop-color="#ececec"/><stop offset="0.6" stop-color="#dedede"/><stop offset="1" stop-color="#c6c6c6"/>
</radialGradient>
<linearGradient id="sbsTop" x1="0" y1="0" x2="1" y2="0">
  <stop offset="0" stop-color="#ededef"/><stop offset="0.15" stop-color="#f6f6f7"/><stop offset="1" stop-color="#d9d9dc"/>
</linearGradient>
<linearGradient id="sbsLow" x1="0" y1="0" x2="1" y2="0">
  <stop offset="0" stop-color="#cfcfd3"/><stop offset="0.2" stop-color="#e6e6e9"/><stop offset="1" stop-color="#d3d3d6"/>
</linearGradient>
<g id="sbs">
  <rect x="364" y="866" width="50" height="44" fill="url(#sbsLow)"/>
  <rect x="373" y="866" width="31" height="47" fill="#e2e2e5" stroke="#c4c4c8" stroke-width="0.5"/>
  <rect x="362" y="832" width="56" height="34" rx="4" fill="url(#sbsTop)"/>
  <rect x="359" y="861" width="60" height="9.5" rx="3.5" fill="#eeeef0" stroke="#d0d0d4" stroke-width="0.5"/>
  <line x1="372" y1="834" x2="372" y2="869" stroke="#d2d2d6" stroke-width="0.6"/>
  <line x1="410" y1="834" x2="410" y2="869" stroke="#d2d2d6" stroke-width="0.6"/>
</g>

<radialGradient id="fy1" cx="0.5" cy="0.5" r="0.5"><stop offset="0" stop-color="#ffe870"/><stop offset="0.45" stop-color="#ffb020"/><stop offset="1" stop-color="#ff6010" stop-opacity="0"/></radialGradient>
<radialGradient id="fy2" cx="0.5" cy="0.5" r="0.5"><stop offset="0" stop-color="#ffd040"/><stop offset="0.5" stop-color="#ff8a10"/><stop offset="1" stop-color="#ff5010" stop-opacity="0"/></radialGradient>
<radialGradient id="fdark" cx="0.5" cy="0.5" r="0.5"><stop offset="0" stop-color="#3a0804"/><stop offset="1" stop-color="#5a1008" stop-opacity="0"/></radialGradient>
<linearGradient id="standG" x1="0" y1="0" x2="1" y2="0"><stop offset="0" stop-color="#c8c8cc"/><stop offset="0.3" stop-color="#f4f4f6"/><stop offset="0.7" stop-color="#e6e6ea"/><stop offset="1" stop-color="#b8b8bc"/></linearGradient>
<linearGradient id="baseG" x1="0" y1="0" x2="0" y2="1"><stop offset="0" stop-color="#e8e8ea"/><stop offset="0.7" stop-color="#f6f6f8"/><stop offset="1" stop-color="#a0a0a4"/></linearGradient>
<linearGradient id="glareG" x1="0" y1="0" x2="0" y2="1"><stop offset="0" stop-color="#6a6a6a"/><stop offset="0.35" stop-color="#555"/><stop offset="1" stop-color="#151515"/></linearGradient>
<filter id="blur6" x="-20%" y="-20%" width="140%" height="140%"><feGaussianBlur stdDeviation="6"/></filter>
<filter id="blur3" x="-20%" y="-20%" width="140%" height="140%"><feGaussianBlur stdDeviation="3"/></filter>
<clipPath id="fireClip"><rect x="885.4" y="1888.2" width="248.1" height="268.1"/></clipPath>
<clipPath id="miniClip"><rect x="709" y="1970" width="143" height="180"/></clipPath>
<filter id="sblur" x="-10%" y="-10%" width="120%" height="120%"><feGaussianBlur stdDeviation="0.35"/></filter></defs><g transform="translate(146,326.2) scale(1.0)"><circle cx="0" cy="0" r="61" fill="url(#detG)" stroke="#d2d2d2" stroke-width="1"/><circle cx="-10.0" cy="-50.0" r="1" fill="#c9c9c9"/><circle cx="-5.6" cy="-50.0" r="1" fill="#c9c9c9"/><circle cx="-1.1" cy="-50.0" r="1" fill="#c9c9c9"/><circle cx="3.3" cy="-50.0" r="1" fill="#c9c9c9"/><circle cx="7.8" cy="-50.0" r="1" fill="#c9c9c9"/><circle cx="12.2" cy="-50.0" r="1" fill="#c9c9c9"/><circle cx="16.7" cy="-50.0" r="1" fill="#c9c9c9"/><circle cx="21.1" cy="-50.0" r="1" fill="#c9c9c9"/><circle cx="25.6" cy="-50.0" r="1" fill="#c9c9c9"/><circle cx="30.0" cy="-50.0" r="1" fill="#c9c9c9"/><circle cx="-8.0" cy="-45.4" r="1" fill="#c9c9c9"/><circle cx="-3.6" cy="-45.4" r="1" fill="#c9c9c9"/><circle cx="0.8" cy="-45.4" r="1" fill="#c9c9c9"/><circle cx="5.2" cy="-45.4" r="1" fill="#c9c9c9"/><circle cx="9.6" cy="-45.4" r="1" fill="#c9c9c9"/><circle cx="14.0" cy="-45.4" r="1" fill="#c9c9c9"/><circle cx="18.4" cy="-45.4" r="1" fill="#c9c9c9"/><circle cx="22.8" cy="-45.4" r="1" fill="#c9c9c9"/><circle cx="27.2" cy="-45.4" r="1" fill="#c9c9c9"/><circle cx="-6.0" cy="-40.8" r="1" fill="#c9c9c9"/><circle cx="-0.9" cy="-40.8" r="1" fill="#c9c9c9"/><circle cx="4.1" cy="-40.8" r="1" fill="#c9c9c9"/><circle cx="9.2" cy="-40.8" r="1" fill="#c9c9c9"/><circle cx="14.3" cy="-40.8" r="1" fill="#c9c9c9"/><circle cx="19.3" cy="-40.8" r="1" fill="#c9c9c9"/><circle cx="24.4" cy="-40.8" r="1" fill="#c9c9c9"/><circle cx="-4.0" cy="-36.2" r="1" fill="#c9c9c9"/><circle cx="1.1" cy="-36.2" r="1" fill="#c9c9c9"/><circle cx="6.2" cy="-36.2" r="1" fill="#c9c9c9"/><circle cx="11.4" cy="-36.2" r="1" fill="#c9c9c9"/><circle cx="16.5" cy="-36.2" r="1" fill="#c9c9c9"/><circle cx="21.6" cy="-36.2" r="1" fill="#c9c9c9"/><circle cx="-2.0" cy="-31.6" r="1" fill="#c9c9c9"/><circle cx="3.2" cy="-31.6" r="1" fill="#c9c9c9"/><circle cx="8.4" cy="-31.6" r="1" fill="#c9c9c9"/><circle cx="13.6" cy="-31.6" r="1" fill="#c9c9c9"/><circle cx="18.8" cy="-31.6" r="1" fill="#c9c9c9"/><circle cx="0.0" cy="-27.0" r="1" fill="#c9c9c9"/><circle cx="5.3" cy="-27.0" r="1" fill="#c9c9c9"/><circle cx="10.7" cy="-27.0" r="1" fill="#c9c9c9"/><circle cx="16.0" cy="-27.0" r="1" fill="#c9c9c9"/><circle cx="2.0" cy="-22.4" r="1" fill="#c9c9c9"/><circle cx="7.6" cy="-22.4" r="1" fill="#c9c9c9"/><circle cx="13.2" cy="-22.4" r="1" fill="#c9c9c9"/><circle cx="4.0" cy="-17.8" r="1" fill="#c9c9c9"/><circle cx="10.4" cy="-17.8" r="1" fill="#c9c9c9"/><text x="0" y="0" font-size="6.5" fill="#444" font-weight="bold" font-family="Liberation Sans" transform="translate(-4,30) rotate(-80)">ALARM</text><text x="0" y="0" font-size="6.5" fill="#444" font-weight="bold" font-family="Liberation Sans" transform="translate(13,11) rotate(-12)">STOP</text><circle cx="26" cy="25" r="16" fill="#f6f6f6"/><circle cx="26" cy="25" r="14" fill="url(#btnG)"/><g clip-path="url(#detClip)"><path d="M-23,66 L-20,43 L23,43 L26,66 Z" fill="#c8c8c8"/><path d="M-21,66 L-18,45 L21,45 L24,66 Z" fill="#dcdcdc"/></g><rect x="-16" y="47.5" width="32" height="10" rx="5" fill="#111"/><circle cx="-3" cy="52.5" r="4.6" fill="#e8e8e8"/></g><g transform="translate(145,516) scale(1.0163934426229508)"><circle cx="0" cy="0" r="61" fill="url(#detG)" stroke="#d2d2d2" stroke-width="1"/><circle cx="-10.0" cy="-50.0" r="1" fill="#c9c9c9"/><circle cx="-5.6" cy="-50.0" r="1" fill="#c9c9c9"/><circle cx="-1.1" cy="-50.0" r="1" fill="#c9c9c9"/><circle cx="3.3" cy="-50.0" r="1" fill="#c9c9c9"/><circle cx="7.8" cy="-50.0" r="1" fill="#c9c9c9"/><circle cx="12.2" cy="-50.0" r="1" fill="#c9c9c9"/><circle cx="16.7" cy="-50.0" r="1" fill="#c9c9c9"/><circle cx="21.1" cy="-50.0" r="1" fill="#c9c9c9"/><circle cx="25.6" cy="-50.0" r="1" fill="#c9c9c9"/><circle cx="30.0" cy="-50.0" r="1" fill="#c9c9c9"/><circle cx="-8.0" cy="-45.4" r="1" fill="#c9c9c9"/><circle cx="-3.6" cy="-45.4" r="1" fill="#c9c9c9"/><circle cx="0.8" cy="-45.4" r="1" fill="#c9c9c9"/><circle cx="5.2" cy="-45.4" r="1" fill="#c9c9c9"/><circle cx="9.6" cy="-45.4" r="1" fill="#c9c9c9"/><circle cx="14.0" cy="-45.4" r="1" fill="#c9c9c9"/><circle cx="18.4" cy="-45.4" r="1" fill="#c9c9c9"/><circle cx="22.8" cy="-45.4" r="1" fill="#c9c9c9"/><circle cx="27.2" cy="-45.4" r="1" fill="#c9c9c9"/><circle cx="-6.0" cy="-40.8" r="1" fill="#c9c9c9"/><circle cx="-0.9" cy="-40.8" r="1" fill="#c9c9c9"/><circle cx="4.1" cy="-40.8" r="1" fill="#c9c9c9"/><circle cx="9.2" cy="-40.8" r="1" fill="#c9c9c9"/><circle cx="14.3" cy="-40.8" r="1" fill="#c9c9c9"/><circle cx="19.3" cy="-40.8" r="1" fill="#c9c9c9"/><circle cx="24.4" cy="-40.8" r="1" fill="#c9c9c9"/><circle cx="-4.0" cy="-36.2" r="1" fill="#c9c9c9"/><circle cx="1.1" cy="-36.2" r="1" fill="#c9c9c9"/><circle cx="6.2" cy="-36.2" r="1" fill="#c9c9c9"/><circle cx="11.4" cy="-36.2" r="1" fill="#c9c9c9"/><circle cx="16.5" cy="-36.2" r="1" fill="#c9c9c9"/><circle cx="21.6" cy="-36.2" r="1" fill="#c9c9c9"/><circle cx="-2.0" cy="-31.6" r="1" fill="#c9c9c9"/><circle cx="3.2" cy="-31.6" r="1" fill="#c9c9c9"/><circle cx="8.4" cy="-31.6" r="1" fill="#c9c9c9"/><circle cx="13.6" cy="-31.6" r="1" fill="#c9c9c9"/><circle cx="18.8" cy="-31.6" r="1" fill="#c9c9c9"/><circle cx="0.0" cy="-27.0" r="1" fill="#c9c9c9"/><circle cx="5.3" cy="-27.0" r="1" fill="#c9c9c9"/><circle cx="10.7" cy="-27.0" r="1" fill="#c9c9c9"/><circle cx="16.0" cy="-27.0" r="1" fill="#c9c9c9"/><circle cx="2.0" cy="-22.4" r="1" fill="#c9c9c9"/><circle cx="7.6" cy="-22.4" r="1" fill="#c9c9c9"/><circle cx="13.2" cy="-22.4" r="1" fill="#c9c9c9"/><circle cx="4.0" cy="-17.8" r="1" fill="#c9c9c9"/><circle cx="10.4" cy="-17.8" r="1" fill="#c9c9c9"/><text x="0" y="0" font-size="6.5" fill="#444" font-weight="bold" font-family="Liberation Sans" transform="translate(-4,30) rotate(-80)">ALARM</text><text x="0" y="0" font-size="6.5" fill="#444" font-weight="bold" font-family="Liberation Sans" transform="translate(13,11) rotate(-12)">STOP</text><circle cx="26" cy="25" r="16" fill="#f6f6f6"/><circle cx="26" cy="25" r="14" fill="url(#btnG)"/><g clip-path="url(#detClip)"><path d="M-23,66 L-20,43 L23,43 L26,66 Z" fill="#c8c8c8"/><path d="M-21,66 L-18,45 L21,45 L24,66 Z" fill="#dcdcdc"/></g><rect x="-16" y="47.5" width="32" height="10" rx="5" fill="#111"/><circle cx="10" cy="52.5" r="4.6" fill="#e8e8e8"/></g><path d="M223.74,323.11 A9.2,9.2 0 0 1 223.74,330.89" fill="none" stroke="#000" stroke-width="4.6"/><path d="M229.57,315.11 A18.5,18.5 0 0 1 229.57,338.89" fill="none" stroke="#000" stroke-width="4.6"/><path d="M236.53,308.63 A28,28 0 0 1 236.53,345.37" fill="none" stroke="#000" stroke-width="4.6"/><path d="M224.34,491.11 A9.2,9.2 0 0 1 224.34,498.89" fill="none" stroke="#000" stroke-width="4.6"/><path d="M230.17,483.11 A18.5,18.5 0 0 1 230.17,506.89" fill="none" stroke="#000" stroke-width="4.6"/><path d="M237.13,476.63 A28,28 0 0 1 237.13,513.37" fill="none" stroke="#000" stroke-width="4.6"/><ellipse cx="603.5" cy="527.5" rx="153.5" ry="49" fill="#222" stroke="#8a8260" stroke-width="0.8"/><rect x="540.6" y="428" width="117.4" height="87.5" fill="url(#bsLow)"/><rect x="564.6" y="428" width="73.4" height="97.4" fill="url(#bsFront)" stroke="#d0d0d4" stroke-width="0.6"/><rect x="536" y="344" width="130.6" height="70" rx="9" fill="url(#bsTop)"/><line x1="557" y1="346" x2="557" y2="430" stroke="#d4d4d8" stroke-width="0.8"/><line x1="647" y1="346" x2="647" y2="430" stroke="#d4d4d8" stroke-width="0.8"/><rect x="530.6" y="407.8" width="140.4" height="24.2" rx="8" fill="url(#bsLedge)"/><line x1="557" y1="408" x2="557" y2="432" stroke="#d4d4d8" stroke-width="0.8"/><line x1="647" y1="408" x2="647" y2="432" stroke="#d4d4d8" stroke-width="0.8"/><path d="M502.91,415.89 A9.2,9.2 0 0 1 502.91,408.11" fill="none" stroke="#000" stroke-width="4.6"/><path d="M497.08,423.89 A18.5,18.5 0 0 1 497.08,400.11" fill="none" stroke="#000" stroke-width="4.6"/><path d="M490.12,430.37 A28,28 0 0 1 490.12,393.63" fill="none" stroke="#000" stroke-width="4.6"/><path d="M693.66,410.20 A9,9 0 0 1 693.66,417.80" fill="none" stroke="#000" stroke-width="4.6"/><path d="M699.29,402.43 A18,18 0 0 1 699.29,425.57" fill="none" stroke="#000" stroke-width="4.6"/><path d="M706.25,395.96 A27.5,27.5 0 0 1 706.25,432.04" fill="none" stroke="#000" stroke-width="4.6"/><rect x="960" y="358" width="60" height="128.7" rx="5" fill="url(#towerG)"/><rect x="964" y="367" width="52" height="3" fill="#6a6a6a"/><rect x="964" y="378" width="52" height="3" fill="#4a4a4a"/><rect x="964" y="470" width="52" height="2.5" fill="#5a5a5a"/><rect x="964" y="476" width="52" height="2" fill="#3a3a3a"/><circle cx="990" cy="436.7" r="9.5" fill="#1c1c1c" stroke="#707070" stroke-width="1.8"/><rect x="962" y="487" width="56" height="8" fill="#f6f6f6"/><path d="M1058,466 L1092,466 L1100,482 L1050,482 Z" fill="#3a3a3a"/><rect x="1035" y="481.5" width="80" height="5.2" rx="1.5" fill="#1e1e1e"/><rect x="1011.7" y="380" width="126.6" height="86.7" rx="4" fill="#1a1a1a"/><rect x="1019" y="388" width="111.7" height="70.3" fill="url(#screenG)"/><path d="M944.66,419.59 A9.2,9.2 0 0 1 944.66,411.81" fill="none" stroke="#000" stroke-width="4.6"/><path d="M938.83,427.59 A18.5,18.5 0 0 1 938.83,403.81" fill="none" stroke="#000" stroke-width="4.6"/><path d="M931.87,434.07 A28,28 0 0 1 931.87,397.33" fill="none" stroke="#000" stroke-width="4.6"/><g clip-path="url(#clip3)" filter="url(#lift3)"><use href="#bld"/></g><defs><clipPath id="cL"><polygon points="100,900 623,900 623,1400 100,1400"/></clipPath><clipPath id="cR"><polygon points="621,900 1100,900 1100,1400 621,1400"/></clipPath><clipPath id="cGround"><polygon points="0,800 1200,800 1200,2200 0,2200"/></clipPath></defs><g clip-path="url(#cL)" filter="url(#lift2)"><use href="#bld" transform="translate(40,-759.5)"/></g><g clip-path="url(#cR)" filter="url(#lift2)"><use href="#bld" transform="matrix(-0.9156,0,0,1,1155,-759.5)"/></g><use href="#sbs"/><use href="#sbs" transform="translate(464,2.5)"/><g style="isolation:auto"><polygon points="389,891 159,1362 599,1385" fill="url(#triM)" style="mix-blend-mode:multiply" transform="translate(0,0)"/><polygon points="389,891 159,1362 599,1385" fill="url(#triN)"/></g><g transform="translate(464,1.5)"><polygon points="389,891 159,1362 599,1385" fill="url(#triM)" style="mix-blend-mode:multiply" transform="translate(0,0)"/><polygon points="389,891 159,1362 599,1385" fill="url(#triN)"/></g><path d="M346.12,900.42 A4.8,4.8 0 0 1 343.26,895.25" fill="none" stroke="#000" stroke-width="4.3"/><path d="M344.14,909.46 A14,14 0 0 1 334.54,892.14" fill="none" stroke="#000" stroke-width="4.3"/><path d="M342.19,919.29 A24,24 0 0 1 325.17,888.58" fill="none" stroke="#000" stroke-width="4.3"/><path d="M898.51,894.33 A4.8,4.8 0 0 1 894.33,898.51" fill="none" stroke="#000" stroke-width="3.9"/><path d="M907.75,893.75 A14,14 0 0 1 893.75,907.75" fill="none" stroke="#000" stroke-width="3.9"/><path d="M917.74,892.91 A24,24 0 0 1 892.91,917.74" fill="none" stroke="#000" stroke-width="3.9"/><g transform="translate(150.5,1101.7) scale(1.0000)"><circle r="20.5" fill="url(#sdG)"/><circle cx="9" cy="6" r="6.2" fill="none" stroke="#bdbdbd" stroke-width="0.8"/><circle cx="9.5" cy="7" r="4.6" fill="#cfcfcf"/><rect x="-5" y="15.5" width="12" height="5" rx="2.5" fill="#111"/><circle cx="3.5" cy="18" r="1.9" fill="#ddd"/></g><g transform="translate(1052.5,1101.7) scale(0.9756)"><circle r="20.5" fill="url(#sdG)"/><circle cx="9" cy="6" r="6.2" fill="none" stroke="#bdbdbd" stroke-width="0.8"/><circle cx="9.5" cy="7" r="4.6" fill="#cfcfcf"/><rect x="-5" y="15.5" width="12" height="5" rx="2.5" fill="#111"/><circle cx="3.5" cy="18" r="1.9" fill="#ddd"/></g><g transform="translate(150.5,1151.7) scale(1.0000)"><circle r="20.5" fill="url(#sdG)"/><circle cx="9" cy="6" r="6.2" fill="none" stroke="#bdbdbd" stroke-width="0.8"/><circle cx="9.5" cy="7" r="4.6" fill="#cfcfcf"/><rect x="-5" y="15.5" width="12" height="5" rx="2.5" fill="#111"/><circle cx="3.5" cy="18" r="1.9" fill="#ddd"/></g><g transform="translate(1052.5,1151.7) scale(0.9756)"><circle r="20.5" fill="url(#sdG)"/><circle cx="9" cy="6" r="6.2" fill="none" stroke="#bdbdbd" stroke-width="0.8"/><circle cx="9.5" cy="7" r="4.6" fill="#cfcfcf"/><rect x="-5" y="15.5" width="12" height="5" rx="2.5" fill="#111"/><circle cx="3.5" cy="18" r="1.9" fill="#ddd"/></g><g transform="translate(150.5,1201.7) scale(1.0000)"><circle r="20.5" fill="url(#sdG)"/><circle cx="9" cy="6" r="6.2" fill="none" stroke="#bdbdbd" stroke-width="0.8"/><circle cx="9.5" cy="7" r="4.6" fill="#cfcfcf"/><rect x="-5" y="15.5" width="12" height="5" rx="2.5" fill="#111"/><circle cx="3.5" cy="18" r="1.9" fill="#ddd"/></g><g transform="translate(1052.5,1201.7) scale(0.9756)"><circle r="20.5" fill="url(#sdG)"/><circle cx="9" cy="6" r="6.2" fill="none" stroke="#bdbdbd" stroke-width="0.8"/><circle cx="9.5" cy="7" r="4.6" fill="#cfcfcf"/><rect x="-5" y="15.5" width="12" height="5" rx="2.5" fill="#111"/><circle cx="3.5" cy="18" r="1.9" fill="#ddd"/></g><g transform="translate(150.5,1251.7) scale(1.0000)"><circle r="20.5" fill="url(#sdG)"/><circle cx="9" cy="6" r="6.2" fill="none" stroke="#bdbdbd" stroke-width="0.8"/><circle cx="9.5" cy="7" r="4.6" fill="#cfcfcf"/><rect x="-5" y="15.5" width="12" height="5" rx="2.5" fill="#111"/><circle cx="3.5" cy="18" r="1.9" fill="#ddd"/></g><g transform="translate(1052.5,1251.7) scale(0.9756)"><circle r="20.5" fill="url(#sdG)"/><circle cx="9" cy="6" r="6.2" fill="none" stroke="#bdbdbd" stroke-width="0.8"/><circle cx="9.5" cy="7" r="4.6" fill="#cfcfcf"/><rect x="-5" y="15.5" width="12" height="5" rx="2.5" fill="#111"/><circle cx="3.5" cy="18" r="1.9" fill="#ddd"/></g><path d="M177.32,1083.32 A6,6 0 0 1 182.78,1088.78" fill="none" stroke="#000" stroke-width="4.2"/><path d="M176.80,1075.30 A14,14 0 0 1 190.80,1089.30" fill="none" stroke="#000" stroke-width="4.2"/><path d="M176.40,1066.30 A23,23 0 0 1 199.80,1089.70" fill="none" stroke="#000" stroke-width="4.2"/><path d="M1024.03,1091.69 A7,7 0 0 1 1030.39,1085.33" fill="none" stroke="#000" stroke-width="4.6"/><path d="M1015.00,1092.30 A16,16 0 0 1 1031.00,1076.30" fill="none" stroke="#000" stroke-width="4.6"/><path d="M1004.00,1092.77 A27,27 0 0 1 1031.47,1065.30" fill="none" stroke="#000" stroke-width="4.6"/><path d="M177.32,1138.32 A6,6 0 0 1 182.78,1143.78" fill="none" stroke="#000" stroke-width="4.2"/><path d="M176.80,1130.30 A14,14 0 0 1 190.80,1144.30" fill="none" stroke="#000" stroke-width="4.2"/><path d="M176.40,1121.30 A23,23 0 0 1 199.80,1144.70" fill="none" stroke="#000" stroke-width="4.2"/><path d="M1024.03,1146.69 A7,7 0 0 1 1030.39,1140.33" fill="none" stroke="#000" stroke-width="4.6"/><path d="M1015.00,1147.30 A16,16 0 0 1 1031.00,1131.30" fill="none" stroke="#000" stroke-width="4.6"/><path d="M1004.00,1147.77 A27,27 0 0 1 1031.47,1120.30" fill="none" stroke="#000" stroke-width="4.6"/><path d="M177.32,1188.32 A6,6 0 0 1 182.78,1193.78" fill="none" stroke="#000" stroke-width="4.2"/><path d="M176.80,1180.30 A14,14 0 0 1 190.80,1194.30" fill="none" stroke="#000" stroke-width="4.2"/><path d="M176.40,1171.30 A23,23 0 0 1 199.80,1194.70" fill="none" stroke="#000" stroke-width="4.2"/><path d="M1024.03,1196.69 A7,7 0 0 1 1030.39,1190.33" fill="none" stroke="#000" stroke-width="4.6"/><path d="M1015.00,1197.30 A16,16 0 0 1 1031.00,1181.30" fill="none" stroke="#000" stroke-width="4.6"/><path d="M1004.00,1197.77 A27,27 0 0 1 1031.47,1170.30" fill="none" stroke="#000" stroke-width="4.6"/><path d="M177.32,1238.32 A6,6 0 0 1 182.78,1243.78" fill="none" stroke="#000" stroke-width="4.2"/><path d="M176.80,1230.30 A14,14 0 0 1 190.80,1244.30" fill="none" stroke="#000" stroke-width="4.2"/><path d="M176.40,1221.30 A23,23 0 0 1 199.80,1244.70" fill="none" stroke="#000" stroke-width="4.2"/><path d="M1024.03,1246.69 A7,7 0 0 1 1030.39,1240.33" fill="none" stroke="#000" stroke-width="4.6"/><path d="M1015.00,1247.30 A16,16 0 0 1 1031.00,1231.30" fill="none" stroke="#000" stroke-width="4.6"/><path d="M1004.00,1247.77 A27,27 0 0 1 1031.47,1220.30" fill="none" stroke="#000" stroke-width="4.6"/><line x1="212" y1="1101.3" x2="282" y2="1101.3" stroke="#222" stroke-width="1.3"/><line x1="942.5" y1="1101.3" x2="992.5" y2="1101.3" stroke="#222" stroke-width="1.3"/><line x1="212" y1="1149.5" x2="282" y2="1149.5" stroke="#222" stroke-width="1.3"/><line x1="942.5" y1="1149.5" x2="992.5" y2="1149.5" stroke="#222" stroke-width="1.3"/><line x1="212" y1="1211.3" x2="282" y2="1211.3" stroke="#222" stroke-width="1.3"/><line x1="942.5" y1="1211.3" x2="992.5" y2="1211.3" stroke="#222" stroke-width="1.3"/><line x1="212" y1="1263.3" x2="282" y2="1263.3" stroke="#222" stroke-width="1.3"/><line x1="942.5" y1="1263.3" x2="992.5" y2="1263.3" stroke="#222" stroke-width="1.3"/><use href="#sbs" transform="translate(-63.4,760.6)"/><path d="M290.12,1660.92 A4.8,4.8 0 0 1 287.26,1655.75" fill="none" stroke="#000" stroke-width="4.3"/><path d="M288.14,1669.96 A14,14 0 0 1 278.54,1652.64" fill="none" stroke="#000" stroke-width="4.3"/><path d="M286.19,1679.79 A24,24 0 0 1 269.17,1649.08" fill="none" stroke="#000" stroke-width="4.3"/><g transform="translate(110,1862) scale(1.0244)"><circle r="20.5" fill="url(#sdG)"/><circle cx="9" cy="6" r="6.2" fill="none" stroke="#bdbdbd" stroke-width="0.8"/><circle cx="9.5" cy="7" r="4.6" fill="#cfcfcf"/><rect x="-5" y="15.5" width="12" height="5" rx="2.5" fill="#111"/><circle cx="3.5" cy="18" r="1.9" fill="#ddd"/></g><g transform="translate(110,1912) scale(1.0244)"><circle r="20.5" fill="url(#sdG)"/><circle cx="9" cy="6" r="6.2" fill="none" stroke="#bdbdbd" stroke-width="0.8"/><circle cx="9.5" cy="7" r="4.6" fill="#cfcfcf"/><rect x="-5" y="15.5" width="12" height="5" rx="2.5" fill="#111"/><circle cx="3.5" cy="18" r="1.9" fill="#ddd"/></g><g transform="translate(110,1962) scale(1.0244)"><circle r="20.5" fill="url(#sdG)"/><circle cx="9" cy="6" r="6.2" fill="none" stroke="#bdbdbd" stroke-width="0.8"/><circle cx="9.5" cy="7" r="4.6" fill="#cfcfcf"/><rect x="-5" y="15.5" width="12" height="5" rx="2.5" fill="#111"/><circle cx="3.5" cy="18" r="1.9" fill="#ddd"/><circle cx="9" cy="6" r="6" fill="#ff2020" opacity="0.35"/><circle cx="9" cy="6" r="4.6" fill="#ee0000"/></g><g transform="translate(110,2011) scale(1.0244)"><circle r="20.5" fill="url(#sdG)"/><circle cx="9" cy="6" r="6.2" fill="none" stroke="#bdbdbd" stroke-width="0.8"/><circle cx="9.5" cy="7" r="4.6" fill="#cfcfcf"/><rect x="-5" y="15.5" width="12" height="5" rx="2.5" fill="#111"/><circle cx="3.5" cy="18" r="1.9" fill="#ddd"/></g><path d="M137.32,1948.32 A6,6 0 0 1 142.78,1953.78" fill="none" stroke="#000" stroke-width="4.2"/><path d="M136.80,1940.30 A14,14 0 0 1 150.80,1954.30" fill="none" stroke="#000" stroke-width="4.2"/><path d="M136.40,1931.30 A23,23 0 0 1 159.80,1954.70" fill="none" stroke="#000" stroke-width="4.2"/><path d="M862,2166 L958,2166 L965,2222 L855,2222 Z" fill="url(#standG)"/><path d="M834,2219 Q840,2214 850,2213 L968,2213 Q980,2214 986,2219 L986,2244 Q910,2250 834,2244 Z" fill="url(#baseG)"/><path d="M834,2244 Q910,2252 986,2244" stroke="#888" stroke-width="1.5" fill="none"/><rect x="666.5" y="1876.8" width="484" height="294.5" rx="12" fill="#111"/><path d="M955,1876.8 L1138.5,1876.8 Q1150.5,1876.8 1150.5,1888.8 L1150.5,2159 Q1150.5,2171.3 1138.5,2171.3 L1139.6,2171.3 L1139.6,1886 L962,1886 Z" fill="url(#glareG)"/><rect x="679.6" y="1886" width="460" height="274.2" fill="#ffffff"/><g clip-path="url(#fireClip)"><rect x="885" y="1888" width="249" height="269" fill="#e4500f"/><g filter="url(#blur6)"><ellipse cx="922" cy="1980" rx="40" ry="50" fill="#b83410"/><ellipse cx="910" cy="1985" rx="20" ry="30" fill="#7a1a0a"/><ellipse cx="950" cy="2005" rx="18" ry="16" fill="#a02c0c"/><ellipse cx="1045" cy="1955" rx="75" ry="48" fill="#ff8a1c"/><ellipse cx="1042" cy="1952" rx="48" ry="34" fill="#ffc238"/><ellipse cx="1040" cy="1950" rx="26" ry="20" fill="#ffe868"/><ellipse cx="1110" cy="1975" rx="28" ry="45" fill="#f06a1c"/><ellipse cx="1000" cy="2040" rx="80" ry="28" fill="#f0641c"/><path d="M935,2090 L1133,2010 L1133,2035 L950,2105 Z" fill="#f49a6a" opacity="0.7"/><ellipse cx="958" cy="2105" rx="32" ry="20" fill="#ffb030"/><ellipse cx="955" cy="2108" rx="18" ry="11" fill="#ffd860"/></g><g filter="url(#blur3)"><path d="M870,1870 L1145,1870 L1145,1930 L1031,1915 L870,1910 Z" fill="#4a0e08"/><path d="M925,2165 L966,2103 L1032,2086 L1097,2075 L1145,2070 L1145,2165 Z" fill="#3a0a06"/></g><circle cx="1001.5" cy="1929.3" r="0.89" fill="#ffe890" opacity="0.85"/><circle cx="953.8" cy="1965.9" r="0.72" fill="#ffe890" opacity="0.85"/><circle cx="951.0" cy="1963.2" r="0.52" fill="#ffe890" opacity="0.85"/><circle cx="1022.4" cy="1921.6" r="0.55" fill="#ffe890" opacity="0.85"/><circle cx="1020.7" cy="1993.6" r="0.57" fill="#ffe890" opacity="0.85"/><circle cx="982.4" cy="1974.6" r="1.07" fill="#ffe890" opacity="0.85"/><circle cx="1049.6" cy="1952.7" r="1.09" fill="#ffe890" opacity="0.85"/><circle cx="948.9" cy="1996.6" r="0.67" fill="#ffe890" opacity="0.85"/><circle cx="967.4" cy="1926.2" r="0.69" fill="#ffe890" opacity="0.85"/><circle cx="1095.1" cy="1932.2" r="0.85" fill="#ffe890" opacity="0.85"/><circle cx="1061.4" cy="1950.4" r="0.83" fill="#ffe890" opacity="0.85"/><circle cx="951.9" cy="1920.7" r="0.62" fill="#ffe890" opacity="0.85"/><circle cx="1069.3" cy="1955.6" r="0.69" fill="#ffe890" opacity="0.85"/><circle cx="1051.3" cy="1958.1" r="0.68" fill="#ffe890" opacity="0.85"/><circle cx="1090.9" cy="1981.4" r="0.65" fill="#ffe890" opacity="0.85"/><circle cx="1049.1" cy="1964.9" r="1.03" fill="#ffe890" opacity="0.85"/><circle cx="1078.6" cy="1942.4" r="1.09" fill="#ffe890" opacity="0.85"/><circle cx="962.4" cy="1954.7" r="0.95" fill="#ffe890" opacity="0.85"/><circle cx="968.9" cy="1961.5" r="0.52" fill="#ffe890" opacity="0.85"/><circle cx="1067.0" cy="1987.6" r="0.84" fill="#ffe890" opacity="0.85"/><circle cx="1106.3" cy="1944.8" r="0.92" fill="#ffe890" opacity="0.85"/><circle cx="1052.9" cy="1970.1" r="0.77" fill="#ffe890" opacity="0.85"/><circle cx="1099.6" cy="2004.7" r="0.78" fill="#ffe890" opacity="0.85"/><circle cx="1066.2" cy="1920.8" r="0.92" fill="#ffe890" opacity="0.85"/><circle cx="1063.0" cy="2009.3" r="0.99" fill="#ffe890" opacity="0.85"/><circle cx="994.1" cy="1951.7" r="0.90" fill="#ffe890" opacity="0.85"/><circle cx="944.3" cy="1958.9" r="0.60" fill="#ffe890" opacity="0.85"/><circle cx="962.2" cy="1920.6" r="0.96" fill="#ffe890" opacity="0.85"/><circle cx="964.6" cy="1938.5" r="0.73" fill="#ffe890" opacity="0.85"/><circle cx="1105.6" cy="1922.7" r="0.77" fill="#ffe890" opacity="0.85"/><circle cx="1044.4" cy="1998.9" r="0.99" fill="#ffe890" opacity="0.85"/><circle cx="1104.2" cy="1941.5" r="0.75" fill="#ffe890" opacity="0.85"/><circle cx="1008.2" cy="1999.0" r="1.07" fill="#ffe890" opacity="0.85"/><circle cx="968.7" cy="1931.7" r="0.64" fill="#ffe890" opacity="0.85"/><circle cx="984.3" cy="1961.1" r="0.85" fill="#ffe890" opacity="0.85"/><circle cx="989.9" cy="1915.4" r="0.75" fill="#ffe890" opacity="0.85"/><circle cx="1010.2" cy="1968.8" r="1.07" fill="#ffe890" opacity="0.85"/><circle cx="1071.2" cy="1964.0" r="0.87" fill="#ffe890" opacity="0.85"/><circle cx="1068.5" cy="1920.1" r="1.04" fill="#ffe890" opacity="0.85"/><circle cx="1088.2" cy="1998.1" r="0.98" fill="#ffe890" opacity="0.85"/><circle cx="1014.6" cy="1952.9" r="0.56" fill="#ffe890" opacity="0.85"/><circle cx="1060.5" cy="1920.9" r="0.54" fill="#ffe890" opacity="0.85"/><circle cx="979.7" cy="1930.4" r="0.70" fill="#ffe890" opacity="0.85"/><circle cx="950.0" cy="1915.0" r="0.59" fill="#ffe890" opacity="0.85"/><circle cx="959.3" cy="1949.5" r="0.52" fill="#ffe890" opacity="0.85"/><circle cx="1106.1" cy="1973.3" r="0.59" fill="#ffe890" opacity="0.85"/><circle cx="987.9" cy="1948.0" r="0.72" fill="#ffe890" opacity="0.85"/><circle cx="963.3" cy="1995.6" r="1.10" fill="#ffe890" opacity="0.85"/><circle cx="1028.5" cy="1961.0" r="0.55" fill="#ffe890" opacity="0.85"/><circle cx="959.4" cy="1947.6" r="0.66" fill="#ffe890" opacity="0.85"/><circle cx="1097.5" cy="1930.3" r="0.51" fill="#ffe890" opacity="0.85"/><circle cx="1120.7" cy="1965.2" r="0.59" fill="#ffe890" opacity="0.85"/><circle cx="1043.2" cy="1917.6" r="0.82" fill="#ffe890" opacity="0.85"/><circle cx="1125.9" cy="1997.0" r="0.92" fill="#ffe890" opacity="0.85"/><circle cx="989.6" cy="1949.8" r="0.60" fill="#ffe890" opacity="0.85"/><circle cx="1086.7" cy="1965.6" r="0.97" fill="#ffe890" opacity="0.85"/><circle cx="1002.6" cy="1936.2" r="0.99" fill="#ffe890" opacity="0.85"/><circle cx="1127.1" cy="1996.0" r="0.98" fill="#ffe890" opacity="0.85"/><circle cx="1095.5" cy="1985.3" r="0.64" fill="#ffe890" opacity="0.85"/><circle cx="1038.4" cy="1948.8" r="0.52" fill="#ffe890" opacity="0.85"/><path d="M885,2064 L932,2068.5 L932,2157 L885,2157 Z" fill="#2a0806"/><path d="M886,2072 L906,2074 L910,2136" stroke="#9a9090" stroke-width="2.5" fill="none"/><path d="M886,2092 L905,2094" stroke="#6a6060" stroke-width="1.5" fill="none"/><path d="M930,2108 L969,2094 L969,2134" stroke="#2a0806" stroke-width="1.8" fill="none"/><path d="M1036,2145 L1073,2103 L1073,2151" stroke="#1a0604" stroke-width="1.8" fill="none"/><path d="M977,1986 L1032,1993" stroke="#6a1808" stroke-width="3"/><ellipse cx="1041" cy="2018" rx="25" ry="29" transform="rotate(25 1041 2018)" fill="#b8340e" stroke="#6a1808" stroke-width="1.4"/><path d="M1030,2000 Q1050,1985 1066,2002" stroke="#4a1008" stroke-width="2" fill="none"/></g><g clip-path="url(#miniClip)" filter="url(#lift3)"><use href="#bld" transform="translate(709,1975.5) scale(0.38) translate(-200,-1698)"/></g><rect x="708.9" y="2072" width="19" height="16" fill="#ff0000"/><g filter="url(#sblur)"><path d="M277,1907 C282,1903 290,1905 296,1909 C304,1914 312,1926 318,1937 C312,1933 306,1929 300,1926 C296,1930 290,1928 286,1922 C282,1917 278,1912 277,1907 Z" fill="#ececec" stroke="#5a5a5a" stroke-width="0.6"/><path d="M288,1911 C294,1916 302,1925 310,1934" fill="none" stroke="#7a7a7a" stroke-width="1"/><path d="M300,1928 C308,1932 315,1940 316,1948 C316,1954 312,1958 306,1960 C304,1952 302,1944 298,1937 Z" fill="#dedede" stroke="#5a5a5a" stroke-width="0.6"/><path d="M272,1940 C278,1937 286,1940 292,1946 C298,1952 304,1958 306,1962 C300,1968 292,1970 286,1966 C282,1958 278,1950 272,1940 Z" fill="#ececec" stroke="#5a5a5a" stroke-width="0.6"/><path d="M286,1944 C290,1952 294,1962 296,1972" fill="none" stroke="#333" stroke-width="1.2"/><path d="M234,1964 C240,1960 250,1961 258,1966 C266,1971 276,1976 286,1980 C292,1984 296,1990 292,1992 C282,1990 270,1988 260,1986 C252,1984 246,1980 242,1976 C236,1972 232,1968 234,1964 Z" fill="#ececec" stroke="#5a5a5a" stroke-width="0.6"/><path d="M240,1968 C252,1972 266,1978 284,1984" fill="none" stroke="#6a6a6a" stroke-width="0.9"/><path d="M248,1978 C258,1982 270,1985 282,1987" fill="none" stroke="#8a8a8a" stroke-width="0.8"/><path d="M276,1970 C284,1974 292,1980 296,1990 C296,1998 292,2004 288,2010 C284,2002 282,1994 280,1986 C278,1980 276,1975 276,1970 Z" fill="#e2e2e2" stroke="#5a5a5a" stroke-width="0.6"/><path d="M259,1950 C262,1950 266,1955 269,1962" fill="none" stroke="#d8d8d8" stroke-width="2"/></g></svg>
<div class="t" style="left:480.00px;top:50.83px;font-size:38.00px;letter-spacing:2.00px;color:#606060;transform:scale(0.9915,0.99);transform-origin:0 32.17px;">社區消防監測</div>
<div class="t" style="left:292.00px;top:114.69px;font-size:28.37px;letter-spacing:2.13px;color:#606060;transform:scale(1.0094,0.9);transform-origin:0 24.01px;">型號<span class="P" style="width:30.50px"><span style="left:-9.15px">：</span></span><span class="L" style="width:194.99px;font-size:36.33px"><span style="transform:scaleX(0.7488)">WS-SMOKE-9C</span></span>（煙霧警報<span class="L" style="width:133.56px;font-size:36.33px"><span style="transform:scaleX(0.7560)">+CAMERA</span></span>拍照）</div>
<div class="t" style="left:292.00px;top:167.99px;font-size:28.37px;letter-spacing:2.13px;color:#606060;transform:scale(0.9965,0.9);transform-origin:0 24.01px;">型號<span class="P" style="width:30.50px"><span style="left:-9.15px">：</span></span><span class="L" style="width:190.47px;font-size:36.33px"><span style="transform:scaleX(0.7488)">WS-SMOKE-9L</span></span>（煙霧警報<span class="L" style="width:73.20px;font-size:36.33px"><span style="transform:scaleX(0.7965)">+LED</span></span>燈光）</div>
<div class="t" style="left:85.00px;top:400.51px;font-size:21.02px;letter-spacing:1.58px;color:#606060;transform:scale(1.0060,0.9);transform-origin:0 17.79px;"><span class="L" style="width:130.55px;font-size:25.11px"><span style="transform:scaleX(0.7254)">WS-SMOKE-9C</span></span></div>
<div class="t" style="left:85.00px;top:587.21px;font-size:21.02px;letter-spacing:1.58px;color:#606060;transform:scale(1.0157,0.9);transform-origin:0 17.79px;"><span class="L" style="width:127.53px;font-size:25.11px"><span style="transform:scaleX(0.7254)">WS-SMOKE-9L</span></span></div>
<div class="t" style="left:320.00px;top:373.21px;font-size:22.79px;letter-spacing:1.71px;color:#606060;transform:scale(1.0274,0.9);transform-origin:0 19.29px;"><span class="L" style="width:27.73px;font-size:28.89px"><span style="transform:scaleX(0.7200)">RF</span></span>通訊</div>
<div class="t" style="left:314.00px;top:417.73px;font-size:24.18px;letter-spacing:1.82px;color:#606060;transform:scale(1.0111,0.9);transform-origin:0 20.47px;"><span class="L" style="width:91.76px;font-size:29.44px"><span style="transform:scaleX(0.8370)">900MHz</span></span></div>
<div class="t" style="left:778.60px;top:364.71px;font-size:22.79px;letter-spacing:1.71px;color:#606060;transform:scale(1.0426,0.9);transform-origin:0 19.29px;"><span class="L" style="width:46.62px;font-size:29.44px"><span style="transform:scaleX(0.7920)">WiFi</span></span>通訊</div>
<div class="t" style="left:784.00px;top:406.71px;font-size:22.79px;letter-spacing:1.71px;color:#606060;transform:scale(1.0386,0.9);transform-origin:0 19.29px;"><span class="L" style="width:30.05px;font-size:29.44px"><span style="transform:scaleX(0.7650)">4G</span></span>通訊</div>
<div class="t" style="left:782.60px;top:450.71px;font-size:22.79px;letter-spacing:1.71px;color:#606060;transform:scale(1.0390,0.9);transform-origin:0 19.29px;"><span class="L" style="width:77.27px;font-size:29.44px"><span style="transform:scaleX(0.7740)">RS-485</span></span>通訊</div>
<div class="t" style="left:1016.60px;top:559.26px;font-size:18.60px;letter-spacing:1.40px;color:#606060;transform:scale(0.9598,0.9);transform-origin:0 15.74px;">系統主機</div>
<div class="t" style="left:511.00px;top:719.84px;font-size:37.52px;letter-spacing:1.98px;color:#606060;transform:scale(0.9983,0.99);transform-origin:0 31.76px;">設備安裝分佈</div>
<div class="t" style="left:300.40px;top:1482.64px;font-size:37.52px;letter-spacing:1.98px;color:#606060;transform:scale(0.9995,0.99);transform-origin:0 31.76px;">險情發出報警<span class="P" style="width:39.50px"><span style="left:-11.85px">，</span></span>後台可實時查看與拍照</div>
<div class="t" style="left:692.00px;top:1633.81px;font-size:29.76px;letter-spacing:2.24px;color:#606060;transform:scale(1.0117,0.9);transform-origin:0 25.19px;"><span class="L" style="width:200.96px;font-size:37.22px"><span style="transform:scaleX(0.7533)">WS-SMOKE-9C</span></span>與<span class="L" style="width:196.30px;font-size:37.22px"><span style="transform:scaleX(0.7533)">WS-SMOKE-9L</span></span></div>
<div class="t" style="left:690.00px;top:1689.97px;font-size:29.57px;letter-spacing:2.23px;color:#606060;transform:scale(0.9743,0.9);transform-origin:0 25.03px;"><span class="L" style="width:20.11px;font-size:37.22px"><span style="transform:scaleX(0.8100)">* </span></span>都可在後台查看險情位置</div>
<div class="t" style="left:692.00px;top:1744.81px;font-size:29.76px;letter-spacing:2.24px;color:#606060;transform:scale(1.0050,0.9);transform-origin:0 25.19px;"><span class="L" style="width:200.96px;font-size:37.22px"><span style="transform:scaleX(0.7533)">WS-SMOKE-9C</span></span></div>
<div class="t" style="left:690.00px;top:1798.97px;font-size:29.57px;letter-spacing:2.23px;color:#606060;transform:scale(0.9793,0.9);transform-origin:0 25.03px;"><span class="L" style="width:20.11px;font-size:37.22px"><span style="transform:scaleX(0.8100)">* </span></span>可遠程拍照現場</div>
<div class="t" style="left:700.40px;top:1909.19px;font-size:47.50px;letter-spacing:2.50px;color:#ff0000;transform:scale(1.0174,0.97);transform-origin:0 40.21px;-webkit-text-stroke:1.3px #ff0000;"><span class="L" style="width:35.35px;font-size:54.64px"><span style="transform:scaleX(0.9700)">A</span></span>座<span class="L" style="width:72.50px;font-size:54.64px"><span style="transform:scaleX(0.7954)">301</span></span></div>
<div class="t" style="left:37.00px;top:2187.75px;font-size:28.64px;letter-spacing:2.16px;color:#606060;transform:scale(0.9984,0.9);transform-origin:0 24.25px;">報警條件<span class="P" style="width:30.80px"><span style="left:-9.24px">：</span></span>監測有煙霧或室內環境高於<span class="L" style="width:56.14px;font-size:37.22px"><span style="transform:scaleX(0.8100)">50℃</span></span></div>
<div class="t" style="left:37.00px;top:2244.75px;font-size:28.64px;letter-spacing:2.16px;color:#606060;transform:scale(0.9981,0.9);transform-origin:0 24.25px;">報警提醒<span class="P" style="width:30.80px"><span style="left:-9.24px">：</span></span>先發出語音提醒<span class="P" style="width:30.80px"><span style="left:-9.24px">：</span></span>煙霧報警</div>
<div class="t" style="left:197.60px;top:2295.75px;font-size:28.64px;letter-spacing:2.16px;color:#606060;transform:scale(0.9994,0.9);transform-origin:0 24.25px;">然後持續發出提示音<span class="P" style="width:30.80px"><span style="left:-9.24px">：</span></span>滴滴滴<span class="L" style="width:23.73px;font-size:37.22px"><span style="transform:scaleX(0.7650)">...</span></span><span class="P" style="width:30.80px"><span style="left:-9.24px">，</span></span>帶<span class="L" style="width:55.39px;font-size:37.22px"><span style="transform:scaleX(0.7650)">LED</span></span>燈的型號會閃亮<span class="P" style="width:30.80px"><span style="left:-9.24px">，</span></span>提示逃生出口</div>
<div class="t" style="left:563.00px;top:543.26px;font-size:18.60px;letter-spacing:1.40px;color:#ffffff;transform:scale(1.0000,0.9);transform-origin:0 15.74px;">無線基站</div>
</body></html>
